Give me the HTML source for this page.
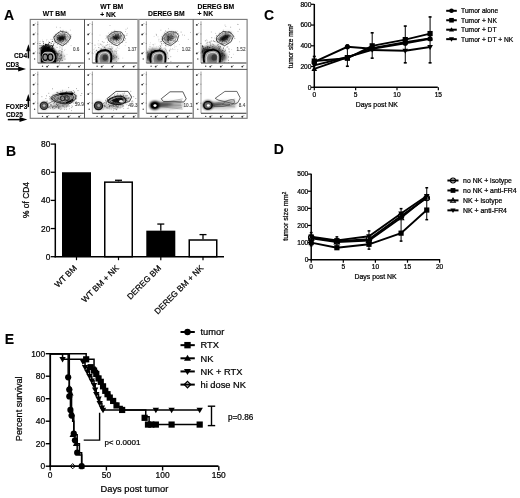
<!DOCTYPE html>
<html><head><meta charset="utf-8"><style>
html,body{margin:0;padding:0;background:#fff;}
svg{display:block;font-family:"Liberation Sans", sans-serif;filter:grayscale(1);}
</style></head><body>
<svg width="520" height="498" viewBox="0 0 520 498">
<defs>
<radialGradient id="rg1" cx="0.55" cy="0.6" r="0.6"><stop offset="0" stop-color="#444"/><stop offset="0.5" stop-color="#808080"/><stop offset="1" stop-color="#b0b0b0"/></radialGradient>
<filter id="b03" x="-10%" y="-10%" width="120%" height="120%"><feGaussianBlur stdDeviation="0.35"/></filter>
<filter id="b05" x="-20%" y="-20%" width="140%" height="140%"><feGaussianBlur stdDeviation="0.5"/></filter>
<filter id="b1" x="-50%" y="-50%" width="200%" height="200%"><feGaussianBlur stdDeviation="1"/></filter>
<filter id="b15" x="-50%" y="-50%" width="200%" height="200%"><feGaussianBlur stdDeviation="1.5"/></filter>
</defs>
<rect width="520" height="498" fill="#fff"/>
<text x="4.00" y="20.00" font-size="14" text-anchor="start" font-weight="bold" fill="#000" stroke="#000" stroke-width="0.1" >A</text>
<text x="54.30" y="16.40" font-size="6.8" text-anchor="middle" font-weight="bold" fill="#000" stroke="#000" stroke-width="0.1" >WT BM</text>
<text x="100.20" y="9.00" font-size="6.8" text-anchor="start" font-weight="bold" fill="#000" stroke="#000" stroke-width="0.1" >WT BM</text>
<text x="100.20" y="16.50" font-size="6.8" text-anchor="start" font-weight="bold" fill="#000" stroke="#000" stroke-width="0.1" >+ NK</text>
<text x="166.30" y="16.40" font-size="6.8" text-anchor="middle" font-weight="bold" fill="#000" stroke="#000" stroke-width="0.1" >DEREG BM</text>
<text x="197.50" y="8.90" font-size="6.8" text-anchor="start" font-weight="bold" fill="#000" stroke="#000" stroke-width="0.1" >DEREG BM</text>
<text x="197.50" y="16.40" font-size="6.8" text-anchor="start" font-weight="bold" fill="#000" stroke="#000" stroke-width="0.1" >+ NK</text>
<text x="14.00" y="57.50" font-size="6.6" text-anchor="start" font-weight="bold" fill="#000" stroke="#000" stroke-width="0.1" >CD4</text>
<text x="5.80" y="67.00" font-size="6.6" text-anchor="start" font-weight="bold" fill="#000" stroke="#000" stroke-width="0.1" >CD3</text>
<text x="5.80" y="108.80" font-size="6.6" text-anchor="start" font-weight="bold" fill="#000" stroke="#000" stroke-width="0.1" >FOXP3</text>
<text x="6.00" y="116.60" font-size="6.6" text-anchor="start" font-weight="bold" fill="#000" stroke="#000" stroke-width="0.1" >CD25</text>
<line x1="28.40" y1="58.30" x2="28.40" y2="49.20" stroke="#000" stroke-width="1.5" />
<path d="M26.1,51.2 L30.7,51.2 L28.4,44.2 Z" fill="#000"/>
<line x1="28.30" y1="107.00" x2="28.30" y2="98.90" stroke="#000" stroke-width="1.5" />
<path d="M26.0,100.9 L30.6,100.9 L28.3,93.9 Z" fill="#000"/>
<line x1="6.00" y1="69.00" x2="21.00" y2="69.00" stroke="#000" stroke-width="1.5" />
<path d="M18.2,66.5 L18.2,71.5 L26.0,69.0 Z" fill="#000"/>
<line x1="7.80" y1="119.60" x2="22.30" y2="119.60" stroke="#000" stroke-width="1.5" />
<path d="M19.5,117.1 L19.5,122.1 L27.3,119.6 Z" fill="#000"/>
<rect x="30.2" y="19.4" width="216.9" height="98.9" fill="none" stroke="#777" stroke-width="1.1"/>
<line x1="84.50" y1="19.00" x2="84.50" y2="118.30" stroke="#555" stroke-width="1" />
<line x1="193.20" y1="19.00" x2="193.20" y2="118.30" stroke="#666" stroke-width="1.1" />
<line x1="138.40" y1="19.00" x2="138.40" y2="118.30" stroke="#999" stroke-width="2.2" />
<line x1="30.00" y1="69.40" x2="247.20" y2="69.40" stroke="#555" stroke-width="1" />
<line x1="37.80" y1="21.20" x2="37.80" y2="63.00" stroke="#aaa" stroke-width="1.1" />
<line x1="37.00" y1="24.50" x2="38.30" y2="24.50" stroke="#777" stroke-width="0.6" />
<circle cx="33.60" cy="24.90" r="0.95" fill="#333"/>
<path d="M34.40,24.40 L35.50,23.30" stroke="#444" stroke-width="0.6"/>
<line x1="37.00" y1="34.00" x2="38.30" y2="34.00" stroke="#777" stroke-width="0.6" />
<circle cx="33.60" cy="34.40" r="0.95" fill="#333"/>
<path d="M34.40,33.90 L35.50,32.80" stroke="#444" stroke-width="0.6"/>
<line x1="37.00" y1="43.50" x2="38.30" y2="43.50" stroke="#777" stroke-width="0.6" />
<circle cx="33.60" cy="43.90" r="0.95" fill="#333"/>
<path d="M34.40,43.40 L35.50,42.30" stroke="#444" stroke-width="0.6"/>
<line x1="37.00" y1="53.00" x2="38.30" y2="53.00" stroke="#777" stroke-width="0.6" />
<circle cx="33.60" cy="53.40" r="0.95" fill="#333"/>
<path d="M34.40,52.90 L35.50,51.80" stroke="#444" stroke-width="0.6"/>
<circle cx="34.60" cy="59.00" r="0.7" fill="#444"/>
<line x1="37.80" y1="63.00" x2="83.80" y2="63.00" stroke="#333" stroke-width="1.1" />
<circle cx="42.50" cy="66.20" r="0.7" fill="#444"/>
<circle cx="47.10" cy="66.60" r="0.95" fill="#333"/>
<path d="M47.90,66.10 L49.00,65.00" stroke="#444" stroke-width="0.6"/>
<circle cx="57.60" cy="66.60" r="0.95" fill="#333"/>
<path d="M58.40,66.10 L59.50,65.00" stroke="#444" stroke-width="0.6"/>
<circle cx="68.60" cy="66.60" r="0.95" fill="#333"/>
<path d="M69.40,66.10 L70.50,65.00" stroke="#444" stroke-width="0.6"/>
<circle cx="79.10" cy="66.60" r="0.95" fill="#333"/>
<path d="M79.90,66.10 L81.00,65.00" stroke="#444" stroke-width="0.6"/>
<line x1="37.80" y1="71.40" x2="37.80" y2="113.20" stroke="#aaa" stroke-width="1.1" />
<line x1="37.00" y1="74.70" x2="38.30" y2="74.70" stroke="#777" stroke-width="0.6" />
<circle cx="33.60" cy="75.10" r="0.95" fill="#333"/>
<path d="M34.40,74.60 L35.50,73.50" stroke="#444" stroke-width="0.6"/>
<line x1="37.00" y1="84.20" x2="38.30" y2="84.20" stroke="#777" stroke-width="0.6" />
<circle cx="33.60" cy="84.60" r="0.95" fill="#333"/>
<path d="M34.40,84.10 L35.50,83.00" stroke="#444" stroke-width="0.6"/>
<line x1="37.00" y1="93.70" x2="38.30" y2="93.70" stroke="#777" stroke-width="0.6" />
<circle cx="33.60" cy="94.10" r="0.95" fill="#333"/>
<path d="M34.40,93.60 L35.50,92.50" stroke="#444" stroke-width="0.6"/>
<line x1="37.00" y1="103.20" x2="38.30" y2="103.20" stroke="#777" stroke-width="0.6" />
<circle cx="33.60" cy="103.60" r="0.95" fill="#333"/>
<path d="M34.40,103.10 L35.50,102.00" stroke="#444" stroke-width="0.6"/>
<circle cx="34.60" cy="109.20" r="0.7" fill="#444"/>
<line x1="37.80" y1="113.20" x2="83.80" y2="113.20" stroke="#333" stroke-width="1.1" />
<circle cx="42.50" cy="116.40" r="0.7" fill="#444"/>
<circle cx="47.10" cy="116.80" r="0.95" fill="#333"/>
<path d="M47.90,116.30 L49.00,115.20" stroke="#444" stroke-width="0.6"/>
<circle cx="57.60" cy="116.80" r="0.95" fill="#333"/>
<path d="M58.40,116.30 L59.50,115.20" stroke="#444" stroke-width="0.6"/>
<circle cx="68.60" cy="116.80" r="0.95" fill="#333"/>
<path d="M69.40,116.30 L70.50,115.20" stroke="#444" stroke-width="0.6"/>
<circle cx="79.10" cy="116.80" r="0.95" fill="#333"/>
<path d="M79.90,116.30 L81.00,115.20" stroke="#444" stroke-width="0.6"/>
<line x1="92.40" y1="21.20" x2="92.40" y2="63.00" stroke="#aaa" stroke-width="1.1" />
<line x1="91.60" y1="24.50" x2="92.90" y2="24.50" stroke="#777" stroke-width="0.6" />
<circle cx="88.20" cy="24.90" r="0.95" fill="#333"/>
<path d="M89.00,24.40 L90.10,23.30" stroke="#444" stroke-width="0.6"/>
<line x1="91.60" y1="34.00" x2="92.90" y2="34.00" stroke="#777" stroke-width="0.6" />
<circle cx="88.20" cy="34.40" r="0.95" fill="#333"/>
<path d="M89.00,33.90 L90.10,32.80" stroke="#444" stroke-width="0.6"/>
<line x1="91.60" y1="43.50" x2="92.90" y2="43.50" stroke="#777" stroke-width="0.6" />
<circle cx="88.20" cy="43.90" r="0.95" fill="#333"/>
<path d="M89.00,43.40 L90.10,42.30" stroke="#444" stroke-width="0.6"/>
<line x1="91.60" y1="53.00" x2="92.90" y2="53.00" stroke="#777" stroke-width="0.6" />
<circle cx="88.20" cy="53.40" r="0.95" fill="#333"/>
<path d="M89.00,52.90 L90.10,51.80" stroke="#444" stroke-width="0.6"/>
<circle cx="89.20" cy="59.00" r="0.7" fill="#444"/>
<line x1="92.40" y1="63.00" x2="137.30" y2="63.00" stroke="#333" stroke-width="1.1" />
<circle cx="97.10" cy="66.20" r="0.7" fill="#444"/>
<circle cx="101.70" cy="66.60" r="0.95" fill="#333"/>
<path d="M102.50,66.10 L103.60,65.00" stroke="#444" stroke-width="0.6"/>
<circle cx="112.20" cy="66.60" r="0.95" fill="#333"/>
<path d="M113.00,66.10 L114.10,65.00" stroke="#444" stroke-width="0.6"/>
<circle cx="123.20" cy="66.60" r="0.95" fill="#333"/>
<path d="M124.00,66.10 L125.10,65.00" stroke="#444" stroke-width="0.6"/>
<circle cx="133.70" cy="66.60" r="0.95" fill="#333"/>
<path d="M134.50,66.10 L135.60,65.00" stroke="#444" stroke-width="0.6"/>
<line x1="92.40" y1="71.40" x2="92.40" y2="113.20" stroke="#aaa" stroke-width="1.1" />
<line x1="91.60" y1="74.70" x2="92.90" y2="74.70" stroke="#777" stroke-width="0.6" />
<circle cx="88.20" cy="75.10" r="0.95" fill="#333"/>
<path d="M89.00,74.60 L90.10,73.50" stroke="#444" stroke-width="0.6"/>
<line x1="91.60" y1="84.20" x2="92.90" y2="84.20" stroke="#777" stroke-width="0.6" />
<circle cx="88.20" cy="84.60" r="0.95" fill="#333"/>
<path d="M89.00,84.10 L90.10,83.00" stroke="#444" stroke-width="0.6"/>
<line x1="91.60" y1="93.70" x2="92.90" y2="93.70" stroke="#777" stroke-width="0.6" />
<circle cx="88.20" cy="94.10" r="0.95" fill="#333"/>
<path d="M89.00,93.60 L90.10,92.50" stroke="#444" stroke-width="0.6"/>
<line x1="91.60" y1="103.20" x2="92.90" y2="103.20" stroke="#777" stroke-width="0.6" />
<circle cx="88.20" cy="103.60" r="0.95" fill="#333"/>
<path d="M89.00,103.10 L90.10,102.00" stroke="#444" stroke-width="0.6"/>
<circle cx="89.20" cy="109.20" r="0.7" fill="#444"/>
<line x1="92.40" y1="113.20" x2="137.30" y2="113.20" stroke="#333" stroke-width="1.1" />
<circle cx="97.10" cy="116.40" r="0.7" fill="#444"/>
<circle cx="101.70" cy="116.80" r="0.95" fill="#333"/>
<path d="M102.50,116.30 L103.60,115.20" stroke="#444" stroke-width="0.6"/>
<circle cx="112.20" cy="116.80" r="0.95" fill="#333"/>
<path d="M113.00,116.30 L114.10,115.20" stroke="#444" stroke-width="0.6"/>
<circle cx="123.20" cy="116.80" r="0.95" fill="#333"/>
<path d="M124.00,116.30 L125.10,115.20" stroke="#444" stroke-width="0.6"/>
<circle cx="133.70" cy="116.80" r="0.95" fill="#333"/>
<path d="M134.50,116.30 L135.60,115.20" stroke="#444" stroke-width="0.6"/>
<line x1="146.40" y1="21.20" x2="146.40" y2="63.00" stroke="#aaa" stroke-width="1.1" />
<line x1="145.60" y1="24.50" x2="146.90" y2="24.50" stroke="#777" stroke-width="0.6" />
<circle cx="142.20" cy="24.90" r="0.95" fill="#333"/>
<path d="M143.00,24.40 L144.10,23.30" stroke="#444" stroke-width="0.6"/>
<line x1="145.60" y1="34.00" x2="146.90" y2="34.00" stroke="#777" stroke-width="0.6" />
<circle cx="142.20" cy="34.40" r="0.95" fill="#333"/>
<path d="M143.00,33.90 L144.10,32.80" stroke="#444" stroke-width="0.6"/>
<line x1="145.60" y1="43.50" x2="146.90" y2="43.50" stroke="#777" stroke-width="0.6" />
<circle cx="142.20" cy="43.90" r="0.95" fill="#333"/>
<path d="M143.00,43.40 L144.10,42.30" stroke="#444" stroke-width="0.6"/>
<line x1="145.60" y1="53.00" x2="146.90" y2="53.00" stroke="#777" stroke-width="0.6" />
<circle cx="142.20" cy="53.40" r="0.95" fill="#333"/>
<path d="M143.00,52.90 L144.10,51.80" stroke="#444" stroke-width="0.6"/>
<circle cx="143.20" cy="59.00" r="0.7" fill="#444"/>
<line x1="146.40" y1="63.00" x2="192.40" y2="63.00" stroke="#333" stroke-width="1.1" />
<circle cx="151.10" cy="66.20" r="0.7" fill="#444"/>
<circle cx="155.70" cy="66.60" r="0.95" fill="#333"/>
<path d="M156.50,66.10 L157.60,65.00" stroke="#444" stroke-width="0.6"/>
<circle cx="166.20" cy="66.60" r="0.95" fill="#333"/>
<path d="M167.00,66.10 L168.10,65.00" stroke="#444" stroke-width="0.6"/>
<circle cx="177.20" cy="66.60" r="0.95" fill="#333"/>
<path d="M178.00,66.10 L179.10,65.00" stroke="#444" stroke-width="0.6"/>
<circle cx="187.70" cy="66.60" r="0.95" fill="#333"/>
<path d="M188.50,66.10 L189.60,65.00" stroke="#444" stroke-width="0.6"/>
<line x1="146.40" y1="71.40" x2="146.40" y2="113.20" stroke="#aaa" stroke-width="1.1" />
<line x1="145.60" y1="74.70" x2="146.90" y2="74.70" stroke="#777" stroke-width="0.6" />
<circle cx="142.20" cy="75.10" r="0.95" fill="#333"/>
<path d="M143.00,74.60 L144.10,73.50" stroke="#444" stroke-width="0.6"/>
<line x1="145.60" y1="84.20" x2="146.90" y2="84.20" stroke="#777" stroke-width="0.6" />
<circle cx="142.20" cy="84.60" r="0.95" fill="#333"/>
<path d="M143.00,84.10 L144.10,83.00" stroke="#444" stroke-width="0.6"/>
<line x1="145.60" y1="93.70" x2="146.90" y2="93.70" stroke="#777" stroke-width="0.6" />
<circle cx="142.20" cy="94.10" r="0.95" fill="#333"/>
<path d="M143.00,93.60 L144.10,92.50" stroke="#444" stroke-width="0.6"/>
<line x1="145.60" y1="103.20" x2="146.90" y2="103.20" stroke="#777" stroke-width="0.6" />
<circle cx="142.20" cy="103.60" r="0.95" fill="#333"/>
<path d="M143.00,103.10 L144.10,102.00" stroke="#444" stroke-width="0.6"/>
<circle cx="143.20" cy="109.20" r="0.7" fill="#444"/>
<line x1="146.40" y1="113.20" x2="192.40" y2="113.20" stroke="#333" stroke-width="1.1" />
<circle cx="151.10" cy="116.40" r="0.7" fill="#444"/>
<circle cx="155.70" cy="116.80" r="0.95" fill="#333"/>
<path d="M156.50,116.30 L157.60,115.20" stroke="#444" stroke-width="0.6"/>
<circle cx="166.20" cy="116.80" r="0.95" fill="#333"/>
<path d="M167.00,116.30 L168.10,115.20" stroke="#444" stroke-width="0.6"/>
<circle cx="177.20" cy="116.80" r="0.95" fill="#333"/>
<path d="M178.00,116.30 L179.10,115.20" stroke="#444" stroke-width="0.6"/>
<circle cx="187.70" cy="116.80" r="0.95" fill="#333"/>
<path d="M188.50,116.30 L189.60,115.20" stroke="#444" stroke-width="0.6"/>
<line x1="201.00" y1="21.20" x2="201.00" y2="63.00" stroke="#aaa" stroke-width="1.1" />
<line x1="200.20" y1="24.50" x2="201.50" y2="24.50" stroke="#777" stroke-width="0.6" />
<circle cx="196.80" cy="24.90" r="0.95" fill="#333"/>
<path d="M197.60,24.40 L198.70,23.30" stroke="#444" stroke-width="0.6"/>
<line x1="200.20" y1="34.00" x2="201.50" y2="34.00" stroke="#777" stroke-width="0.6" />
<circle cx="196.80" cy="34.40" r="0.95" fill="#333"/>
<path d="M197.60,33.90 L198.70,32.80" stroke="#444" stroke-width="0.6"/>
<line x1="200.20" y1="43.50" x2="201.50" y2="43.50" stroke="#777" stroke-width="0.6" />
<circle cx="196.80" cy="43.90" r="0.95" fill="#333"/>
<path d="M197.60,43.40 L198.70,42.30" stroke="#444" stroke-width="0.6"/>
<line x1="200.20" y1="53.00" x2="201.50" y2="53.00" stroke="#777" stroke-width="0.6" />
<circle cx="196.80" cy="53.40" r="0.95" fill="#333"/>
<path d="M197.60,52.90 L198.70,51.80" stroke="#444" stroke-width="0.6"/>
<circle cx="197.80" cy="59.00" r="0.7" fill="#444"/>
<line x1="201.00" y1="63.00" x2="246.40" y2="63.00" stroke="#333" stroke-width="1.1" />
<circle cx="205.70" cy="66.20" r="0.7" fill="#444"/>
<circle cx="210.30" cy="66.60" r="0.95" fill="#333"/>
<path d="M211.10,66.10 L212.20,65.00" stroke="#444" stroke-width="0.6"/>
<circle cx="220.80" cy="66.60" r="0.95" fill="#333"/>
<path d="M221.60,66.10 L222.70,65.00" stroke="#444" stroke-width="0.6"/>
<circle cx="231.80" cy="66.60" r="0.95" fill="#333"/>
<path d="M232.60,66.10 L233.70,65.00" stroke="#444" stroke-width="0.6"/>
<circle cx="242.30" cy="66.60" r="0.95" fill="#333"/>
<path d="M243.10,66.10 L244.20,65.00" stroke="#444" stroke-width="0.6"/>
<line x1="201.00" y1="71.40" x2="201.00" y2="113.20" stroke="#aaa" stroke-width="1.1" />
<line x1="200.20" y1="74.70" x2="201.50" y2="74.70" stroke="#777" stroke-width="0.6" />
<circle cx="196.80" cy="75.10" r="0.95" fill="#333"/>
<path d="M197.60,74.60 L198.70,73.50" stroke="#444" stroke-width="0.6"/>
<line x1="200.20" y1="84.20" x2="201.50" y2="84.20" stroke="#777" stroke-width="0.6" />
<circle cx="196.80" cy="84.60" r="0.95" fill="#333"/>
<path d="M197.60,84.10 L198.70,83.00" stroke="#444" stroke-width="0.6"/>
<line x1="200.20" y1="93.70" x2="201.50" y2="93.70" stroke="#777" stroke-width="0.6" />
<circle cx="196.80" cy="94.10" r="0.95" fill="#333"/>
<path d="M197.60,93.60 L198.70,92.50" stroke="#444" stroke-width="0.6"/>
<line x1="200.20" y1="103.20" x2="201.50" y2="103.20" stroke="#777" stroke-width="0.6" />
<circle cx="196.80" cy="103.60" r="0.95" fill="#333"/>
<path d="M197.60,103.10 L198.70,102.00" stroke="#444" stroke-width="0.6"/>
<circle cx="197.80" cy="109.20" r="0.7" fill="#444"/>
<line x1="201.00" y1="113.20" x2="246.40" y2="113.20" stroke="#333" stroke-width="1.1" />
<circle cx="205.70" cy="116.40" r="0.7" fill="#444"/>
<circle cx="210.30" cy="116.80" r="0.95" fill="#333"/>
<path d="M211.10,116.30 L212.20,115.20" stroke="#444" stroke-width="0.6"/>
<circle cx="220.80" cy="116.80" r="0.95" fill="#333"/>
<path d="M221.60,116.30 L222.70,115.20" stroke="#444" stroke-width="0.6"/>
<circle cx="231.80" cy="116.80" r="0.95" fill="#333"/>
<path d="M232.60,116.30 L233.70,115.20" stroke="#444" stroke-width="0.6"/>
<circle cx="242.30" cy="116.80" r="0.95" fill="#333"/>
<path d="M243.10,116.30 L244.20,115.20" stroke="#444" stroke-width="0.6"/>
<clipPath id="c1_0"><rect x="38.3" y="20" width="44.8" height="42.6"/></clipPath>
<clipPath id="c2_0"><rect x="38.3" y="70" width="44.8" height="42.6"/></clipPath>
<clipPath id="c1_1"><rect x="92.89999999999999" y="20" width="44.2" height="42.6"/></clipPath>
<clipPath id="c2_1"><rect x="92.89999999999999" y="70" width="44.2" height="42.6"/></clipPath>
<clipPath id="c1_2"><rect x="146.9" y="20" width="44.8" height="42.6"/></clipPath>
<clipPath id="c2_2"><rect x="146.9" y="70" width="44.8" height="42.6"/></clipPath>
<clipPath id="c1_3"><rect x="201.5" y="20" width="44.2" height="42.6"/></clipPath>
<clipPath id="c2_3"><rect x="201.5" y="70" width="44.2" height="42.6"/></clipPath>
<g clip-path="url(#c1_0)">
<g filter="url(#b15)">
<ellipse cx="61.50" cy="38.20" rx="7.70" ry="5.70" fill="#000" fill-opacity="0.18" transform="rotate(-15 61.50 38.20)" />
</g>
<path d="M57.7 37.8h0M59.1 37.9h0M62.8 32.6h0M59.9 37.1h0M58.2 38.7h0M63.4 45.3h0M62.6 37.9h0M63.9 34.3h0M59.7 40.4h0M58.9 35.9h0M58.4 34.9h0M66.7 40.7h0M70.9 34.8h0M60.5 37.9h0M63.5 37.7h0M64.2 36.5h0M57.5 44.2h0M60.6 42.0h0M60.4 38.9h0M54.7 37.0h0M63.4 39.5h0M60.8 38.8h0M54.8 40.1h0M58.2 35.9h0M62.4 36.6h0M58.0 37.9h0M59.8 37.8h0M61.4 36.9h0M66.0 41.8h0M64.9 36.2h0M59.4 39.9h0M61.8 42.3h0M62.6 39.3h0M59.5 39.2h0M56.3 35.0h0M61.4 34.8h0M59.9 41.3h0M67.3 36.8h0M60.5 40.8h0M65.4 38.8h0M58.0 37.6h0M64.4 34.1h0M62.7 41.6h0M64.7 35.3h0M60.3 37.9h0M57.5 39.5h0M58.9 40.8h0M57.1 37.4h0M59.3 38.9h0M53.3 43.3h0M60.8 38.8h0M66.0 37.1h0M63.1 38.2h0M65.1 39.4h0M65.7 36.9h0M57.9 40.0h0M57.5 39.2h0M58.7 32.5h0M59.5 35.7h0M55.4 34.4h0M63.5 39.5h0M56.6 36.3h0M57.7 36.0h0M62.7 34.8h0M63.0 30.4h0M55.5 42.2h0M58.4 32.7h0M69.7 37.9h0M60.5 30.6h0M64.4 37.1h0M60.2 37.1h0M53.8 36.4h0M63.4 40.4h0M63.9 38.5h0M62.3 39.3h0M69.1 36.1h0M55.9 40.8h0M59.1 35.3h0M57.2 41.4h0M58.6 38.2h0M58.9 42.1h0M59.4 37.3h0M54.8 36.0h0M64.4 34.2h0M65.3 38.6h0M62.7 38.4h0M62.2 41.4h0M60.7 34.1h0M61.5 42.8h0M57.1 39.2h0" stroke="#000" stroke-opacity="0.5" stroke-width="0.80" stroke-linecap="round" fill="none" filter="url(#b03)"/>
<path d="M68.1 32.1h0M60.2 27.7h0M62.8 45.0h0M70.3 30.1h0M57.8 37.8h0M47.1 50.5h0M66.4 39.5h0M67.4 34.9h0M63.9 41.8h0M65.5 34.7h0M54.6 43.2h0M62.5 32.4h0M69.2 39.3h0M64.3 37.9h0M66.7 44.0h0M61.4 45.7h0M63.6 39.8h0M71.2 36.8h0M63.5 34.9h0M61.8 38.9h0M57.5 35.9h0M68.6 41.8h0M55.3 36.6h0M67.9 42.4h0M55.0 38.1h0M71.1 45.6h0M66.1 31.1h0M69.5 35.9h0M60.3 40.6h0M54.8 36.2h0M45.5 48.6h0M62.6 35.8h0M61.7 37.9h0M57.5 35.7h0M56.5 27.2h0M51.0 39.4h0M70.6 38.3h0M67.4 40.4h0M60.7 40.1h0M60.9 36.1h0M61.9 40.2h0M57.9 35.5h0M63.0 38.1h0M64.3 43.3h0M62.9 37.9h0M56.4 34.2h0M65.8 40.3h0M65.6 40.0h0M58.8 41.2h0M63.8 41.0h0M60.6 44.5h0M66.9 32.0h0M61.1 38.4h0M66.4 43.5h0M53.1 45.9h0M65.2 34.9h0M58.9 42.1h0M59.8 36.6h0M62.0 48.3h0M52.6 50.1h0" stroke="#000" stroke-opacity="0.4" stroke-width="0.70" stroke-linecap="round" fill="none" filter="url(#b03)"/>
<g filter="url(#b1)">
<ellipse cx="61.50" cy="38.20" rx="4.20" ry="2.70" fill="#000" fill-opacity="0.95" transform="rotate(-15 61.50 38.20)" />
</g>
<path d="M46.4 47.9h0M62.0 50.5h0M53.3 53.1h0M44.0 53.7h0M59.8 48.6h0M73.9 48.3h0M52.1 51.1h0M59.2 57.9h0M39.3 41.8h0M62.0 47.6h0M49.4 48.5h0M64.5 50.5h0M46.4 40.8h0M42.4 45.7h0M42.4 40.1h0M58.2 53.1h0M47.2 58.6h0M55.8 46.1h0M56.6 51.0h0M47.3 57.7h0M42.2 53.9h0M49.3 55.4h0M55.9 56.3h0M38.1 48.1h0M60.0 46.9h0M67.0 54.4h0M59.5 46.9h0M35.8 50.1h0M51.9 53.2h0M48.5 41.2h0M46.9 39.5h0M44.7 48.6h0M52.7 52.8h0M46.9 53.3h0M51.4 41.4h0M45.2 48.6h0M47.2 45.2h0M54.9 41.4h0M49.7 44.0h0M40.9 48.0h0M60.3 47.2h0M47.4 56.6h0M56.6 52.4h0M60.7 50.4h0M51.8 54.5h0M54.3 41.4h0M59.4 50.4h0M65.0 49.4h0M38.4 49.2h0M50.8 59.2h0M61.1 57.5h0M49.9 50.4h0M63.5 43.7h0M55.2 55.8h0M48.2 49.5h0M35.2 55.7h0M43.4 55.3h0M52.8 39.6h0M40.5 41.3h0M47.6 54.3h0M48.9 49.8h0M40.2 49.6h0M48.1 47.5h0M52.4 55.3h0M55.7 51.3h0M51.8 46.4h0M55.1 51.1h0M50.6 48.9h0M48.5 42.4h0M52.7 39.5h0M50.6 42.5h0M48.9 56.0h0M55.0 52.2h0M49.1 41.9h0M56.9 53.5h0M48.0 46.7h0M49.7 46.5h0M55.7 53.9h0M49.4 57.5h0M47.0 51.3h0" stroke="#000" stroke-opacity="0.25" stroke-width="0.70" stroke-linecap="round" fill="none" filter="url(#b03)"/>
</g>
<path d="M53.75,37.50 L56.50,34.00 L60.75,31.25 L67.00,32.50 L70.50,36.00 L70.00,39.00 L66.00,43.50 L62.50,45.75 L55.50,42.00 Z" fill="none" stroke="#333" stroke-width="0.85" stroke-linejoin="round"/>
<path d="M56.20,37.62 C56.32,36.66 57.34,35.85 58.18,35.10 C59.02,34.35 59.98,33.30 61.24,33.12 C62.50,32.94 64.57,33.45 65.74,34.02 C66.91,34.59 67.90,35.76 68.26,36.54 C68.62,37.32 68.44,37.80 67.90,38.70 C67.36,39.60 65.92,41.13 65.02,41.94 C64.12,42.75 63.76,43.74 62.50,43.56 C61.24,43.38 58.51,41.85 57.46,40.86 C56.41,39.87 56.08,38.58 56.20,37.62 Z" fill="none" stroke="#777" stroke-width="0.6"/>
<g clip-path="url(#c1_1)">
<g filter="url(#b15)">
<ellipse cx="115.70" cy="37.40" rx="7.30" ry="5.30" fill="#000" fill-opacity="0.18" transform="rotate(-10 115.70 37.40)" />
</g>
<path d="M111.7 39.1h0M118.8 35.5h0M111.2 38.0h0M117.8 39.9h0M111.0 34.9h0M118.3 38.2h0M121.3 38.9h0M115.2 36.8h0M124.2 35.2h0M112.6 35.0h0M116.1 37.7h0M114.5 37.4h0M116.9 39.0h0M119.5 37.3h0M110.0 40.2h0M110.8 37.8h0M110.7 38.3h0M113.2 38.4h0M126.8 35.3h0M118.0 33.6h0M115.0 39.2h0M115.6 38.4h0M115.6 34.8h0M117.2 35.0h0M121.8 35.0h0M118.0 37.0h0M118.6 35.3h0M119.0 36.5h0M120.2 38.2h0M115.8 35.4h0M118.5 38.1h0M121.1 35.5h0M117.8 38.3h0M116.7 37.8h0M116.1 35.8h0M112.1 37.0h0M118.4 40.8h0M119.5 39.4h0M118.6 38.7h0M116.7 39.2h0M121.5 35.5h0M114.2 42.7h0M117.0 39.7h0M118.1 34.1h0M124.7 40.4h0M116.6 39.2h0M115.7 35.1h0M115.5 38.4h0M119.8 38.5h0M116.5 40.7h0M113.5 39.8h0M119.3 36.0h0M109.3 36.2h0M116.7 38.6h0M120.5 34.0h0M116.0 39.0h0M114.1 31.6h0M119.4 42.7h0M118.7 34.5h0M114.4 38.2h0M124.4 37.5h0M116.8 41.2h0M116.2 42.1h0M113.2 36.6h0M118.8 40.5h0M118.0 37.8h0M109.3 36.7h0M113.4 36.4h0M117.5 36.2h0M118.4 37.1h0M114.6 37.9h0M117.5 39.3h0M114.0 37.1h0M111.8 42.2h0M120.5 36.1h0M113.5 34.6h0M116.4 37.8h0M123.2 36.7h0M112.0 31.8h0M120.5 37.0h0M110.4 38.8h0M111.8 47.0h0M119.7 38.2h0M114.2 32.2h0M114.6 33.6h0M116.8 31.7h0M113.2 41.0h0M120.7 33.5h0M110.9 40.5h0M118.1 34.4h0" stroke="#000" stroke-opacity="0.5" stroke-width="0.80" stroke-linecap="round" fill="none" filter="url(#b03)"/>
<path d="M121.0 42.0h0M110.8 34.7h0M119.1 44.1h0M117.3 32.4h0M111.6 38.0h0M121.1 36.5h0M113.7 36.9h0M116.3 34.4h0M116.1 38.6h0M124.9 35.7h0M120.5 32.4h0M120.7 37.3h0M112.9 37.9h0M120.6 35.3h0M122.6 42.6h0M126.0 42.4h0M109.2 40.1h0M112.8 41.9h0M116.5 38.3h0M118.0 34.7h0M115.9 34.5h0M127.1 33.7h0M114.8 30.4h0M107.2 35.6h0M120.9 39.8h0M117.0 34.7h0M125.4 31.6h0M111.6 40.3h0M110.6 39.5h0M121.2 36.3h0M118.2 37.3h0M110.0 25.5h0M109.2 38.7h0M106.5 36.9h0M118.0 42.7h0M108.0 36.7h0M117.5 39.4h0M109.6 46.3h0M112.2 42.7h0M115.1 39.3h0M125.7 38.7h0M115.9 33.3h0M111.3 32.4h0M126.0 29.3h0M102.8 46.6h0M122.8 34.8h0M120.0 33.4h0M113.1 40.1h0M117.8 35.3h0M125.5 38.9h0M115.8 32.6h0M116.5 36.1h0M116.1 40.8h0M112.9 39.1h0M120.6 38.2h0M127.4 28.2h0M114.7 32.8h0M117.3 47.7h0M106.6 37.9h0M119.6 37.2h0" stroke="#000" stroke-opacity="0.4" stroke-width="0.70" stroke-linecap="round" fill="none" filter="url(#b03)"/>
<g filter="url(#b1)">
<ellipse cx="115.70" cy="37.40" rx="3.80" ry="2.30" fill="#000" fill-opacity="0.9" transform="rotate(-10 115.70 37.40)" />
</g>
<path d="M110.0 49.2h0M98.3 54.2h0M108.8 51.1h0M107.9 58.2h0M113.5 56.2h0M104.6 46.5h0M99.2 47.7h0M86.6 58.6h0M107.8 49.6h0M113.2 46.9h0M108.6 53.7h0M95.1 59.3h0M107.8 52.7h0M99.0 45.5h0M119.4 46.0h0M103.7 51.9h0M117.5 34.9h0M117.8 50.7h0M113.5 43.1h0M109.1 58.6h0M106.0 45.4h0M103.5 46.0h0M112.7 50.3h0M103.0 53.8h0M98.6 40.7h0M125.2 45.4h0M119.0 48.6h0M105.1 52.2h0M100.3 44.2h0M105.2 46.8h0M112.1 60.6h0M97.9 44.0h0M112.4 52.1h0M115.2 44.7h0M111.2 48.8h0M94.5 51.8h0M95.0 52.3h0M103.4 48.0h0M122.8 58.1h0M110.0 51.5h0M101.0 56.5h0M111.4 44.0h0M94.3 49.1h0M105.4 54.2h0M99.0 43.9h0M109.9 49.6h0M113.9 55.7h0M100.0 35.1h0M107.2 44.8h0M108.6 33.1h0M106.0 49.7h0M102.6 52.2h0M107.6 50.5h0M116.5 56.8h0M115.8 51.3h0M107.8 52.5h0M109.1 44.8h0M109.7 54.5h0M103.7 42.7h0M111.1 44.7h0M95.6 47.7h0M95.8 51.1h0M102.9 49.6h0M115.3 55.7h0M106.1 35.9h0M103.2 42.3h0M113.5 58.3h0M112.0 52.9h0M110.9 53.2h0M104.0 54.4h0M104.5 42.3h0M107.2 58.5h0M105.4 38.7h0M116.1 50.6h0M110.9 46.4h0M110.4 58.6h0M101.9 53.2h0M109.4 44.1h0M108.1 52.6h0M100.5 56.0h0" stroke="#000" stroke-opacity="0.25" stroke-width="0.70" stroke-linecap="round" fill="none" filter="url(#b03)"/>
</g>
<path d="M107.80,36.80 L110.00,34.00 L114.90,31.50 L121.30,32.00 L124.50,36.40 L122.90,41.30 L117.30,45.70 L113.30,44.30 L108.50,40.50 Z" fill="none" stroke="#333" stroke-width="0.85" stroke-linejoin="round"/>
<path d="M109.99,37.15 C110.17,36.37 110.72,35.77 111.57,35.14 C112.42,34.50 113.74,33.58 115.10,33.34 C116.46,33.10 118.56,33.11 119.71,33.70 C120.86,34.28 121.82,35.75 122.01,36.86 C122.20,37.98 121.72,39.28 120.86,40.39 C120.00,41.51 117.98,43.20 116.83,43.56 C115.68,43.92 115.00,43.18 113.95,42.55 C112.89,41.93 111.15,40.72 110.49,39.82 C109.83,38.92 109.81,37.93 109.99,37.15 Z" fill="none" stroke="#777" stroke-width="0.6"/>
<g clip-path="url(#c1_2)">
<g filter="url(#b15)">
<ellipse cx="169.30" cy="37.50" rx="7.50" ry="5.60" fill="#000" fill-opacity="0.18" transform="rotate(-20 169.30 37.50)" />
</g>
<path d="M164.6 39.9h0M167.9 36.6h0M172.6 36.5h0M170.1 42.7h0M166.4 34.7h0M164.1 37.8h0M172.4 39.0h0M175.0 41.1h0M175.8 37.2h0M174.6 37.7h0M168.4 40.5h0M169.5 36.9h0M177.1 37.2h0M167.8 38.0h0M177.3 34.0h0M172.7 38.3h0M171.9 38.5h0M167.4 36.9h0M168.6 36.8h0M173.8 40.8h0M167.0 40.2h0M165.5 36.9h0M168.8 38.2h0M165.5 31.0h0M174.0 35.1h0M168.0 40.2h0M166.1 34.4h0M171.6 38.1h0M167.5 40.9h0M169.7 34.0h0M175.8 36.1h0M166.1 40.2h0M170.9 40.1h0M165.9 42.1h0M173.5 38.3h0M172.9 40.4h0M172.1 37.0h0M167.8 41.7h0M173.2 37.2h0M170.8 39.4h0M161.2 41.6h0M161.2 41.4h0M175.0 41.4h0M168.3 39.3h0M167.1 31.6h0M172.0 36.6h0M168.8 34.9h0M169.5 37.8h0M174.2 36.8h0M181.1 32.1h0M168.6 37.8h0M168.2 42.7h0M170.5 33.3h0M171.0 40.6h0M164.8 39.7h0M171.0 44.2h0M170.5 35.9h0M169.5 43.4h0M170.2 44.4h0M164.0 39.0h0M168.0 35.9h0M169.5 39.7h0M165.8 34.5h0M175.6 39.9h0M167.4 39.3h0M161.7 43.6h0M164.4 37.7h0M175.7 31.4h0M168.5 34.6h0M162.0 36.7h0M169.1 33.7h0M168.2 40.3h0M167.7 34.2h0M174.8 36.0h0M173.3 33.0h0M174.0 31.8h0M163.1 38.6h0M168.5 38.7h0M168.2 40.0h0M173.4 34.1h0M164.4 38.2h0M173.1 38.8h0M167.3 35.3h0M170.4 40.2h0M168.3 42.0h0M170.6 38.1h0M168.7 42.1h0M168.2 33.5h0M171.9 35.4h0M173.4 36.7h0" stroke="#000" stroke-opacity="0.5" stroke-width="0.80" stroke-linecap="round" fill="none" filter="url(#b03)"/>
<path d="M172.1 35.8h0M190.4 32.5h0M171.2 39.1h0M165.1 35.3h0M171.7 34.3h0M173.7 34.8h0M156.6 35.3h0M160.9 30.2h0M168.4 36.3h0M173.4 31.5h0M168.9 40.6h0M172.0 31.2h0M177.2 31.3h0M175.9 33.6h0M164.7 32.7h0M172.6 48.8h0M168.1 46.0h0M176.5 32.8h0M178.2 41.5h0M166.6 35.7h0M176.5 36.7h0M182.6 34.9h0M162.4 39.8h0M163.6 43.5h0M172.8 34.1h0M165.6 43.5h0M169.1 44.0h0M163.1 38.4h0M164.4 33.9h0M188.3 39.4h0M166.9 42.5h0M160.8 47.2h0M175.2 33.6h0M167.7 39.4h0M171.4 34.9h0M163.9 38.1h0M168.1 42.1h0M170.3 38.4h0M158.9 39.3h0M166.2 36.0h0M168.2 36.4h0M161.9 45.2h0M174.0 33.2h0M171.5 31.9h0M161.6 39.3h0M178.4 33.7h0M160.8 42.0h0M164.9 35.5h0M168.6 28.7h0M156.4 34.7h0M176.1 35.7h0M164.8 35.7h0M175.6 41.9h0M165.7 40.4h0M184.6 35.3h0M168.2 39.9h0M171.4 40.5h0M170.9 34.6h0M169.6 39.6h0M165.7 39.4h0" stroke="#000" stroke-opacity="0.4" stroke-width="0.70" stroke-linecap="round" fill="none" filter="url(#b03)"/>
<g filter="url(#b1)">
<ellipse cx="169.30" cy="37.50" rx="4.00" ry="2.60" fill="#000" fill-opacity="0.55" transform="rotate(-20 169.30 37.50)" />
</g>
<path d="M164.9 50.8h0M155.7 60.2h0M149.4 49.2h0M167.3 52.9h0M165.3 43.4h0M174.2 45.1h0M160.4 49.2h0M160.7 46.1h0M171.9 49.5h0M167.9 40.3h0M165.1 47.9h0M163.7 50.4h0M164.0 48.6h0M161.4 49.9h0M162.5 49.5h0M158.1 51.6h0M154.7 60.8h0M167.0 57.8h0M159.9 41.9h0M149.9 44.7h0M156.3 46.9h0M158.1 52.6h0M143.8 58.5h0M158.2 49.9h0M147.9 50.5h0M150.3 51.9h0M162.7 50.1h0M159.4 47.5h0M158.4 54.1h0M161.3 50.4h0M177.8 49.6h0M154.1 36.4h0M143.2 49.7h0M166.9 43.2h0M152.4 48.0h0M161.6 54.3h0M159.8 45.4h0M165.5 43.7h0M150.3 42.8h0M158.3 46.6h0M160.6 49.3h0M177.6 51.3h0M145.2 41.0h0M161.8 44.3h0M176.1 46.5h0M157.8 49.6h0M158.8 52.0h0M158.7 50.7h0M156.1 34.1h0M163.6 58.3h0M153.7 45.8h0M166.3 46.1h0M161.4 47.7h0M164.9 48.2h0M175.0 49.3h0M158.7 40.9h0M161.3 43.7h0M165.2 52.2h0M179.5 44.5h0M161.5 54.9h0M146.2 52.6h0M173.8 49.4h0M160.4 55.9h0M162.6 50.7h0M166.7 44.6h0M174.4 47.1h0M160.6 46.8h0M142.1 39.9h0M158.0 49.0h0M168.9 64.0h0M165.8 48.4h0M156.0 56.9h0M156.1 48.8h0M170.3 48.3h0M159.6 49.9h0M148.9 48.4h0M161.9 51.1h0M158.0 36.8h0M154.9 53.3h0M155.0 44.0h0" stroke="#000" stroke-opacity="0.25" stroke-width="0.70" stroke-linecap="round" fill="none" filter="url(#b03)"/>
</g>
<path d="M162.30,38.00 L164.30,34.40 L169.10,31.60 L176.30,32.40 L178.70,35.60 L177.10,40.90 L170.70,45.70 L166.70,44.10 L162.70,40.90 Z" fill="none" stroke="#333" stroke-width="0.85" stroke-linejoin="round"/>
<path d="M164.39,38.05 C164.58,37.27 165.01,36.23 165.83,35.46 C166.65,34.69 167.85,33.68 169.29,33.44 C170.73,33.20 173.32,33.54 174.47,34.02 C175.62,34.50 176.10,35.30 176.20,36.32 C176.29,37.34 176.01,38.93 175.05,40.14 C174.09,41.35 171.69,43.21 170.44,43.59 C169.19,43.98 168.52,43.02 167.56,42.44 C166.60,41.87 165.21,40.87 164.68,40.14 C164.15,39.41 164.20,38.83 164.39,38.05 Z" fill="none" stroke="#777" stroke-width="0.6"/>
<g clip-path="url(#c1_3)">
<g filter="url(#b15)">
<ellipse cx="224.50" cy="37.80" rx="9.00" ry="5.60" fill="#000" fill-opacity="0.18" transform="rotate(-30 224.50 37.80)" />
</g>
<path d="M226.3 41.8h0M218.6 35.3h0M226.7 38.7h0M227.2 38.1h0M223.5 36.6h0M221.4 39.1h0M224.7 41.1h0M225.9 33.1h0M228.0 36.0h0M232.1 38.8h0M224.9 32.0h0M225.7 32.3h0M230.9 32.2h0M226.9 42.8h0M217.5 42.3h0M219.7 39.2h0M222.7 41.5h0M224.3 39.4h0M225.4 31.9h0M230.8 33.7h0M217.0 40.3h0M230.4 38.1h0M222.3 39.8h0M227.7 39.8h0M226.0 40.6h0M220.2 38.2h0M229.1 37.9h0M225.8 39.4h0M227.2 39.2h0M231.0 36.2h0M228.2 34.7h0M219.3 33.3h0M227.0 36.8h0M224.8 31.7h0M222.2 37.6h0M218.6 44.6h0M228.6 31.5h0M229.6 41.0h0M221.3 43.4h0M234.8 38.5h0M217.6 38.6h0M227.8 40.3h0M218.6 39.1h0M221.9 43.4h0M223.6 40.7h0M229.7 39.1h0M227.5 37.6h0M230.9 36.1h0M218.8 39.6h0M229.3 35.9h0M224.0 39.3h0M239.7 29.3h0M228.0 37.7h0M225.7 41.5h0M229.5 36.6h0M221.1 44.4h0M228.4 35.6h0M213.2 44.5h0M219.5 40.3h0M221.7 37.0h0M229.8 35.5h0M229.2 32.2h0M226.3 41.8h0M225.5 35.1h0M220.4 38.6h0M225.8 39.8h0M226.9 39.3h0M229.0 36.0h0M231.9 36.4h0M224.1 37.8h0M224.0 36.0h0M219.3 41.3h0M223.8 40.6h0M222.7 39.6h0M225.3 36.1h0M224.9 35.5h0M224.4 40.9h0M226.9 36.8h0M222.7 41.6h0M230.7 27.2h0M230.1 35.7h0M231.7 38.0h0M223.2 44.8h0M222.2 38.7h0M227.8 36.0h0M225.5 35.8h0M220.6 40.5h0M222.3 44.0h0M228.3 40.8h0M216.6 35.7h0" stroke="#000" stroke-opacity="0.5" stroke-width="0.80" stroke-linecap="round" fill="none" filter="url(#b03)"/>
<path d="M237.4 24.4h0M226.2 35.4h0M216.9 39.1h0M220.6 39.5h0M229.6 40.3h0M228.5 41.4h0M227.6 36.3h0M220.3 34.8h0M212.6 44.0h0M223.6 39.8h0M223.4 31.4h0M216.3 36.2h0M230.8 33.2h0M222.7 33.7h0M213.6 40.6h0M224.2 40.1h0M213.9 45.3h0M216.6 39.2h0M220.5 37.4h0M229.1 39.4h0M225.0 34.3h0M227.7 37.6h0M230.5 35.4h0M210.7 41.3h0M223.1 43.1h0M225.0 42.0h0M223.1 31.9h0M225.4 39.8h0M223.3 30.2h0M225.5 33.7h0M207.7 44.1h0M207.0 40.7h0M239.7 41.8h0M232.3 35.2h0M238.0 31.4h0M211.3 32.0h0M225.0 25.1h0M202.2 46.8h0M222.3 34.1h0M231.0 33.2h0M226.4 38.7h0M220.2 41.0h0M238.2 24.5h0M226.3 39.2h0M220.0 39.8h0M210.7 43.1h0M226.8 42.1h0M229.3 31.6h0M220.3 49.7h0M225.8 26.5h0M219.5 35.6h0M215.7 33.4h0M219.8 37.4h0M224.7 43.0h0M222.8 32.0h0M210.4 42.8h0M234.4 36.9h0M222.6 44.9h0M225.7 33.6h0M227.0 35.7h0" stroke="#000" stroke-opacity="0.4" stroke-width="0.70" stroke-linecap="round" fill="none" filter="url(#b03)"/>
<g filter="url(#b1)">
<ellipse cx="224.50" cy="37.80" rx="5.50" ry="2.60" fill="#000" fill-opacity="0.95" transform="rotate(-30 224.50 37.80)" />
</g>
<path d="M206.3 45.7h0M217.5 45.0h0M206.7 39.6h0M219.0 47.1h0M209.6 42.8h0M197.0 48.7h0M207.7 47.9h0M224.5 46.3h0M213.3 53.5h0M212.9 49.0h0M206.3 43.4h0M203.1 53.8h0M223.2 45.9h0M213.7 46.5h0M233.6 54.3h0M214.2 52.7h0M224.5 43.5h0M219.6 52.4h0M215.5 53.4h0M223.7 49.3h0M212.9 54.2h0M216.5 51.4h0M229.1 51.3h0M215.1 42.0h0M218.0 51.2h0M219.7 52.3h0M220.5 50.6h0M216.5 52.4h0M210.8 44.0h0M208.7 49.9h0M203.3 46.7h0M214.2 51.0h0M208.4 49.6h0M215.8 46.4h0M216.0 48.3h0M207.9 47.4h0M209.3 59.6h0M214.0 45.9h0M205.6 49.2h0M218.1 49.5h0M206.1 43.7h0M208.1 50.3h0M209.8 48.8h0M228.0 39.2h0M213.8 49.1h0M205.1 55.0h0M213.7 51.3h0M219.6 57.0h0M211.1 45.9h0M206.8 42.5h0M228.1 46.8h0M203.5 53.0h0M227.8 44.0h0M215.2 41.7h0M201.6 48.2h0M207.3 42.8h0M215.6 51.4h0M214.0 56.2h0M211.0 47.4h0M221.6 61.5h0M229.6 54.5h0M216.5 41.9h0M225.8 48.8h0M231.7 49.6h0M201.8 55.3h0M216.7 46.2h0M216.6 49.3h0M217.6 39.4h0M215.7 51.7h0M206.8 56.3h0M214.4 38.0h0M226.7 47.2h0M215.9 48.1h0M229.1 49.4h0M210.6 45.7h0M219.6 52.6h0M210.8 54.5h0M210.7 50.1h0M219.3 50.8h0M217.4 50.8h0" stroke="#000" stroke-opacity="0.25" stroke-width="0.70" stroke-linecap="round" fill="none" filter="url(#b03)"/>
</g>
<path d="M216.30,38.00 L218.70,34.80 L223.10,31.50 L230.30,32.40 L233.50,36.00 L231.10,41.70 L224.70,45.70 L219.90,43.30 L216.70,40.90 Z" fill="none" stroke="#333" stroke-width="0.85" stroke-linejoin="round"/>
<path d="M218.40,38.07 C218.64,37.34 219.32,36.55 220.13,35.77 C220.95,34.99 221.91,33.68 223.30,33.39 C224.69,33.10 227.24,33.50 228.48,34.04 C229.73,34.58 230.69,35.52 230.79,36.63 C230.88,37.75 230.12,39.57 229.06,40.74 C228.00,41.90 225.80,43.42 224.45,43.62 C223.11,43.81 221.96,42.46 221.00,41.89 C220.04,41.31 219.12,40.80 218.69,40.16 C218.26,39.52 218.16,38.80 218.40,38.07 Z" fill="none" stroke="#777" stroke-width="0.6"/>
<g clip-path="url(#c1_0)">
<g filter="url(#b15)">
<ellipse cx="58.00" cy="57.00" rx="6.00" ry="5.00" fill="#000" fill-opacity="0.35" transform="rotate(0 58.00 57.00)" />
<ellipse cx="47.00" cy="50.00" rx="6.00" ry="5.00" fill="#000" fill-opacity="0.5" transform="rotate(0 47.00 50.00)" />
</g>
<path d="M44.8 51.0h0M50.1 55.2h0M42.2 47.3h0M43.5 48.5h0M46.0 45.6h0M47.4 45.2h0M48.3 46.8h0M47.5 50.9h0M46.2 47.7h0M44.0 46.0h0M51.7 51.4h0M52.8 50.7h0M47.7 47.7h0M45.7 44.7h0M49.9 52.7h0M51.5 54.2h0M43.1 41.7h0M49.1 50.4h0M43.3 46.7h0M49.3 55.2h0M48.0 47.4h0M49.4 53.0h0M42.6 51.9h0M43.3 49.6h0M48.2 49.7h0M41.5 50.8h0M41.8 51.7h0M40.1 48.0h0M44.9 47.3h0M47.3 50.3h0M52.7 51.0h0M50.3 46.0h0M50.1 52.3h0M51.2 54.0h0M43.5 45.4h0M43.9 47.5h0M51.2 43.3h0M46.7 52.7h0M46.0 45.0h0M43.5 51.2h0M49.0 49.0h0M47.7 53.9h0M45.3 55.8h0M43.2 55.6h0M41.7 53.8h0M46.5 44.6h0M46.9 51.3h0M48.5 49.9h0M45.9 48.6h0M46.8 53.4h0M48.1 51.7h0M47.2 54.0h0M54.7 56.5h0M42.4 46.7h0M42.9 48.4h0M53.2 48.3h0M46.8 48.8h0M40.0 45.7h0M44.0 46.8h0M45.3 48.0h0M45.7 44.3h0M49.9 51.1h0M44.0 47.9h0M43.5 43.3h0M48.8 48.1h0M50.1 54.3h0M41.9 45.8h0M48.3 47.7h0M44.2 48.2h0M47.9 45.1h0M46.8 53.0h0M44.6 48.3h0M48.0 52.6h0M49.9 51.0h0M52.1 47.4h0M52.1 51.4h0M45.4 44.9h0M51.8 50.3h0M48.4 54.6h0M45.2 52.1h0M49.5 54.8h0M47.6 55.5h0M44.7 49.4h0M44.3 46.4h0M52.4 50.4h0M46.4 50.2h0M47.0 44.7h0M45.0 50.8h0M42.3 48.8h0M45.1 46.3h0M41.8 47.5h0M47.2 51.3h0M41.2 50.0h0M48.5 43.9h0M41.8 51.3h0M49.0 51.3h0M52.1 51.8h0M51.3 49.5h0M46.5 46.6h0M46.9 48.3h0M44.5 51.5h0M47.8 48.1h0M47.2 50.6h0M48.0 47.3h0M48.8 48.0h0M47.6 47.8h0M53.6 44.8h0M50.0 46.3h0M52.1 45.5h0M49.0 49.0h0M49.8 45.3h0M45.4 51.0h0M49.4 47.5h0M39.9 48.3h0M44.1 49.7h0M45.0 46.1h0M45.8 54.1h0M48.5 48.2h0M48.6 44.9h0M44.4 49.2h0M45.2 47.4h0M46.5 55.4h0M46.3 50.8h0M52.4 41.5h0M45.4 52.4h0M41.4 48.1h0M51.1 49.8h0M47.3 56.4h0M39.9 53.2h0M42.1 50.8h0M48.6 50.0h0M45.6 52.3h0M48.1 52.3h0M50.0 51.5h0M52.6 48.1h0M40.0 43.6h0M45.9 45.3h0M45.2 49.8h0M51.8 45.5h0M48.2 45.2h0M49.6 42.5h0M51.9 48.6h0M54.2 50.2h0M43.3 48.1h0M44.2 50.5h0M50.8 50.4h0M45.5 48.6h0M52.6 46.5h0M49.1 46.7h0M43.8 51.7h0M41.0 54.9h0M52.5 46.4h0M42.7 49.1h0M45.5 47.2h0M50.2 57.5h0M46.2 51.9h0M45.1 49.6h0M44.6 49.2h0M47.1 48.4h0M47.3 47.3h0" stroke="#000" stroke-opacity="1.0" stroke-width="0.90" stroke-linecap="round" fill="none" filter="url(#b03)"/>
<path d="M61.7 57.3h0M58.1 59.1h0M51.2 50.5h0M49.9 57.2h0M59.8 56.4h0M48.9 60.9h0M47.8 54.3h0M52.4 56.9h0M59.9 50.8h0M53.6 57.1h0M49.7 55.7h0M55.8 51.3h0M49.1 55.8h0M54.0 56.8h0M65.0 59.1h0M57.0 53.5h0M59.2 53.3h0M62.1 60.2h0M46.0 51.9h0M54.1 54.6h0M49.3 51.7h0M58.2 54.1h0M48.1 55.0h0M59.4 61.9h0M55.3 54.9h0M51.4 54.2h0M57.4 60.4h0M60.6 55.1h0M59.0 58.7h0M57.0 47.4h0M54.7 55.0h0M61.0 55.0h0M57.0 56.9h0M60.7 58.7h0M59.6 61.2h0M59.3 58.7h0M53.8 56.3h0M64.7 56.1h0M57.3 55.7h0M53.7 45.5h0M62.7 51.9h0M51.3 60.7h0M44.4 56.1h0M52.5 49.5h0M57.8 53.3h0M54.5 54.5h0M57.9 63.9h0M49.4 59.0h0M51.9 54.8h0M46.5 52.0h0M53.1 58.9h0M56.1 58.0h0M58.3 51.2h0M61.5 54.9h0M58.1 55.4h0M56.2 58.3h0M44.9 63.1h0M55.8 59.8h0M56.0 56.3h0M49.1 54.6h0M45.0 55.5h0M62.1 49.4h0M51.9 54.7h0M60.2 60.3h0M55.3 56.3h0M54.3 54.3h0M52.8 54.4h0M54.3 56.3h0M52.1 58.2h0M54.8 57.9h0M48.9 53.5h0M55.4 57.0h0M54.2 61.4h0M54.1 61.0h0M61.3 58.4h0M57.0 57.9h0M54.3 52.1h0M52.7 53.8h0M53.1 53.4h0M50.2 56.5h0M61.4 52.9h0M46.7 54.0h0M49.4 52.4h0M49.2 55.5h0M57.4 63.9h0M49.7 51.0h0M54.2 55.5h0M62.2 60.5h0M52.0 48.8h0M57.6 54.4h0M61.2 55.6h0M54.3 51.8h0M54.8 60.0h0M51.3 56.7h0M52.3 59.2h0M54.7 57.9h0M56.4 52.9h0M49.8 60.6h0M53.4 52.4h0M52.1 61.8h0M55.4 59.9h0M44.7 64.1h0M55.4 60.7h0M53.6 55.8h0M58.9 62.6h0M55.8 53.6h0M59.6 63.4h0M48.9 53.1h0M57.9 54.5h0M45.0 56.0h0M56.3 58.5h0M61.4 51.5h0M52.6 55.8h0M56.9 53.4h0M55.2 53.3h0M58.9 60.4h0M51.6 58.1h0M50.4 57.4h0M48.6 56.9h0M60.3 59.3h0" stroke="#000" stroke-opacity="0.6" stroke-width="0.80" stroke-linecap="round" fill="none" filter="url(#b03)"/>
<g filter="url(#b1)">
<path d="M40.3,63 L40.3,51 Q40.8,46 45,45.8 Q48,45.5 50,46.8 Q54,47.5 55.5,50.5 Q57.2,53 56.8,63 Z" fill="#000" fill-opacity="0.85"/>
</g>
<path d="M41,63 L41,52 Q41.5,48.5 46,48.2 Q52.5,48.3 55,51.5 Q56.3,54 56,63 Z" fill="#000"/>
<rect x="42.2" y="52.3" width="12" height="10" rx="4.5" fill="#8a8a8a" stroke="#c8c8c8" stroke-width="1.1"/>
<ellipse cx="45.20" cy="57.20" rx="2.40" ry="3.20" fill="none" stroke="#000" stroke-width="1.1" stroke-opacity="1" transform="rotate(0 45.20 57.20)"/>
<ellipse cx="50.40" cy="57.20" rx="2.40" ry="3.20" fill="none" stroke="#000" stroke-width="1.1" stroke-opacity="1" transform="rotate(0 50.40 57.20)"/>
</g>
<g clip-path="url(#c1_1)">
<g filter="url(#b15)">
<ellipse cx="106.00" cy="55.00" rx="9.00" ry="7.00" fill="#000" fill-opacity="0.3" transform="rotate(0 106.00 55.00)" />
<ellipse cx="114.00" cy="58.00" rx="4.00" ry="4.00" fill="#000" fill-opacity="0.3" transform="rotate(0 114.00 58.00)" />
</g>
<path d="M104.0 60.7h0M109.8 57.2h0M105.8 55.3h0M104.4 57.4h0M101.3 62.6h0M113.2 56.6h0M112.1 61.7h0M104.7 51.6h0M110.5 48.5h0M110.5 57.3h0M100.8 44.2h0M107.1 58.4h0M107.4 42.3h0M107.2 56.2h0M105.0 50.6h0M95.7 61.7h0M104.8 47.7h0M111.6 49.0h0M108.2 48.3h0M103.2 54.0h0M116.1 49.1h0M100.0 60.6h0M112.0 55.6h0M101.4 52.1h0M95.2 59.9h0M109.1 59.3h0M110.1 57.5h0M111.1 50.4h0M116.7 56.8h0M101.0 49.9h0M103.8 59.1h0M108.4 61.4h0M118.7 58.7h0M111.7 59.2h0M99.9 52.8h0M103.9 60.3h0M97.3 66.7h0M100.6 50.2h0M101.4 50.0h0M105.8 55.9h0M116.4 53.2h0M111.8 58.9h0M107.8 44.7h0M107.9 56.1h0M98.6 59.3h0M113.0 58.8h0M105.2 49.6h0M108.5 51.0h0M107.9 50.8h0M100.2 57.8h0M101.9 45.0h0M112.2 57.9h0M109.7 48.4h0M105.6 59.7h0M108.2 52.7h0M110.7 53.6h0M95.7 54.0h0M101.6 48.9h0M110.8 49.7h0M112.5 51.4h0M103.3 54.1h0M108.6 53.0h0M105.3 56.6h0M100.8 51.7h0M98.7 47.5h0M115.1 51.8h0M108.1 50.8h0M114.7 57.8h0M111.7 54.8h0M111.2 51.2h0M96.5 61.2h0M110.3 56.8h0M104.2 53.1h0M99.4 53.4h0M106.1 60.0h0M104.6 47.6h0M96.3 50.3h0M98.3 58.6h0M112.2 59.3h0M100.8 48.9h0M110.2 41.2h0M102.3 41.6h0M102.3 51.7h0M111.0 49.5h0M102.6 53.0h0M100.0 53.2h0M92.9 49.8h0M104.1 55.7h0M110.4 59.3h0M106.0 53.7h0M100.4 57.4h0M97.1 57.5h0M100.2 54.9h0M112.5 48.3h0M107.5 53.4h0M100.7 54.2h0M116.3 61.5h0M101.4 50.3h0M106.2 45.3h0M102.2 55.5h0M110.8 51.6h0M101.6 56.6h0M93.0 53.7h0M108.0 53.9h0M118.6 65.5h0M96.6 54.0h0M102.9 50.1h0M95.4 61.2h0M104.1 54.2h0M116.1 57.3h0M96.7 50.4h0M95.6 55.0h0M101.7 58.9h0M102.3 58.5h0M116.6 51.8h0M103.3 54.6h0M114.8 50.9h0M95.0 45.2h0M105.3 48.2h0M100.6 61.0h0" stroke="#000" stroke-opacity="0.5" stroke-width="0.76" stroke-linecap="round" fill="none" filter="url(#b03)"/>
<path d="M97,63.5 Q95.5,56 98,52.5 Q101,50 106,50.2 Q111,51 111.3,56 Q111.5,60 110.5,63.5" fill="url(#rg1)" stroke="#000" stroke-width="1.9"/>
<path d="M96.6,63 Q95.2,56 97.6,52.2 Q101,49.6 106,49.8" fill="none" stroke="#000" stroke-width="0.9" filter="url(#b05)"/>
<path d="M99.3,63 Q98,57.5 100,54.5 Q102.5,52.3 106,52.5 Q109.2,53.2 109.3,57 Q109.3,60.5 108.8,63" fill="none" stroke="#ddd" stroke-width="0.9"/>
<g filter="url(#b05)">
<ellipse cx="105.20" cy="57.60" rx="2.60" ry="3.20" fill="#333" fill-opacity="0.9" transform="rotate(0 105.20 57.60)" />
</g>
</g>
<g clip-path="url(#c1_2)">
<g filter="url(#b15)">
<ellipse cx="158.00" cy="56.00" rx="10.00" ry="7.50" fill="#000" fill-opacity="0.3" transform="rotate(0 158.00 56.00)" />
<ellipse cx="148.50" cy="57.00" rx="2.50" ry="5.00" fill="#000" fill-opacity="0.8" transform="rotate(0 148.50 57.00)" />
<ellipse cx="153.00" cy="51.00" rx="4.00" ry="2.50" fill="#000" fill-opacity="0.5" transform="rotate(0 153.00 51.00)" />
</g>
<path d="M153.9 59.3h0M152.3 56.3h0M151.5 54.6h0M164.5 56.3h0M161.0 55.3h0M156.5 67.9h0M149.9 55.7h0M170.1 49.7h0M153.7 53.5h0M151.9 54.3h0M159.6 54.7h0M151.0 60.4h0M151.3 51.2h0M158.4 51.3h0M165.8 45.7h0M163.7 56.0h0M153.8 58.7h0M153.2 54.0h0M150.0 46.7h0M169.3 50.7h0M160.1 63.1h0M159.3 48.3h0M155.6 51.3h0M158.7 51.3h0M153.2 53.7h0M156.2 54.7h0M153.7 63.0h0M157.3 63.1h0M160.7 48.5h0M154.9 52.6h0M141.4 56.2h0M166.3 54.4h0M140.8 59.9h0M146.8 52.4h0M162.4 57.0h0M161.1 49.2h0M159.4 49.8h0M159.5 54.4h0M157.1 62.2h0M148.3 54.2h0M148.0 56.4h0M159.7 50.9h0M162.8 55.5h0M146.2 68.1h0M167.6 53.0h0M164.5 65.1h0M160.4 57.0h0M159.3 50.5h0M154.0 57.5h0M161.3 55.0h0M159.2 55.4h0M162.0 55.8h0M150.5 54.6h0M160.5 46.1h0M149.8 53.9h0M160.5 55.1h0M165.5 45.3h0M151.1 63.5h0M161.4 52.5h0M161.1 56.0h0M159.8 55.9h0M153.4 53.9h0M164.4 51.3h0M147.5 52.4h0M143.6 44.7h0M164.6 57.8h0M142.9 50.7h0M152.8 57.4h0M153.9 64.1h0M154.4 55.2h0M161.2 54.5h0M146.9 57.1h0M161.1 50.2h0M147.8 51.7h0M168.5 58.6h0M159.6 49.3h0M161.7 57.5h0M159.1 52.1h0M160.9 55.3h0M151.0 56.4h0M156.6 61.2h0M153.1 44.5h0M162.1 54.3h0M157.2 53.7h0M157.4 60.7h0M168.4 58.7h0M165.4 49.6h0M151.4 51.4h0M160.2 48.6h0M149.6 59.0h0M166.5 50.2h0M170.9 61.4h0M152.5 54.7h0M165.7 53.2h0M156.0 56.8h0M169.7 51.0h0M157.8 50.3h0M150.4 63.1h0M166.2 51.8h0M157.5 58.4h0M161.2 64.4h0M165.0 43.7h0M147.4 57.9h0M154.0 61.8h0M162.2 59.7h0M170.8 56.7h0M149.1 54.1h0M161.5 51.8h0M153.0 66.0h0M151.2 57.7h0" stroke="#000" stroke-opacity="0.5" stroke-width="0.76" stroke-linecap="round" fill="none" filter="url(#b03)"/>
<path d="M151,63.5 Q149.5,56 152,52.8 Q155,50.5 160,50.6 Q165,51.3 165.5,56 Q165.8,60 165,63.5" fill="url(#rg1)" stroke="#000" stroke-width="1.8"/>
<path d="M150.6,63 Q149.2,56 151.6,52.4 Q155,50 160,50.2" fill="none" stroke="#000" stroke-width="1.1" filter="url(#b05)"/>
<path d="M153.3,63 Q152,57.5 154,54.8 Q156.5,52.8 160,53 Q163.3,53.6 163.4,57 Q163.4,60.5 162.9,63" fill="none" stroke="#ddd" stroke-width="0.9"/>
<g filter="url(#b05)">
<ellipse cx="159.80" cy="57.40" rx="2.60" ry="3.20" fill="#333" fill-opacity="0.9" transform="rotate(0 159.80 57.40)" />
</g>
</g>
<g clip-path="url(#c1_3)">
<g filter="url(#b15)">
<ellipse cx="212.00" cy="55.00" rx="12.50" ry="9.50" fill="#000" fill-opacity="0.55" transform="rotate(0 212.00 55.00)" />
<ellipse cx="222.00" cy="57.00" rx="5.00" ry="5.00" fill="#000" fill-opacity="0.55" transform="rotate(0 222.00 57.00)" />
<ellipse cx="204.00" cy="50.00" rx="4.00" ry="3.00" fill="#000" fill-opacity="0.6" transform="rotate(0 204.00 50.00)" />
</g>
<path d="M219.5 55.5h0M222.3 59.4h0M209.5 52.9h0M224.5 55.7h0M219.4 61.1h0M205.5 47.8h0M218.7 46.6h0M204.8 50.3h0M212.0 56.3h0M205.1 55.7h0M212.9 48.3h0M196.5 61.6h0M203.4 46.9h0M205.3 40.8h0M215.7 62.9h0M217.6 54.8h0M206.2 50.0h0M206.3 53.3h0M211.7 59.4h0M202.6 47.0h0M204.2 53.0h0M225.5 50.8h0M202.4 50.8h0M215.2 56.2h0M228.4 60.3h0M213.4 51.1h0M209.3 47.6h0M207.6 47.5h0M210.5 55.1h0M215.0 58.9h0M211.0 49.6h0M192.6 58.8h0M218.5 56.7h0M219.1 46.1h0M222.4 50.5h0M208.5 49.5h0M203.9 57.0h0M220.2 46.5h0M200.6 61.9h0M202.3 46.7h0M214.9 57.2h0M205.1 49.4h0M211.3 66.5h0M223.7 50.8h0M224.6 51.5h0M208.1 53.8h0M196.0 47.8h0M200.2 48.7h0M210.7 54.0h0M204.7 52.6h0M192.3 46.5h0M228.9 48.9h0M206.2 47.1h0M194.6 49.8h0M214.1 53.1h0M219.7 56.1h0M229.2 52.0h0M193.6 47.6h0M209.5 42.1h0M211.8 56.0h0M215.0 64.6h0M219.9 47.6h0M216.6 58.0h0M210.7 60.9h0M213.2 41.2h0M206.5 49.8h0M208.6 56.3h0M213.7 54.1h0M224.7 62.4h0M191.2 52.3h0M205.6 52.7h0M210.5 59.7h0M207.8 49.1h0M211.8 52.0h0M209.5 49.5h0M222.5 61.0h0M212.2 48.7h0M224.6 55.2h0M215.1 51.6h0M225.1 50.0h0M212.2 54.9h0M209.7 47.6h0M208.6 69.1h0M216.9 57.0h0M194.4 47.9h0M214.8 53.9h0M217.2 55.3h0M207.6 58.9h0M208.6 56.1h0M207.3 51.7h0M211.1 55.5h0M220.1 55.6h0M202.0 57.2h0M223.4 48.0h0M220.4 60.2h0M202.3 45.6h0M218.5 53.3h0M227.3 47.0h0M215.6 55.7h0M215.4 57.7h0M219.0 50.5h0M194.6 54.2h0M213.3 48.8h0M207.6 49.2h0M215.1 59.4h0M219.3 48.8h0M219.3 48.7h0M228.6 62.6h0M228.6 57.0h0M199.7 58.5h0M217.0 52.6h0M213.6 52.6h0M215.0 53.5h0M207.2 59.3h0M215.0 62.4h0M202.7 52.4h0M215.4 53.5h0M207.9 42.3h0M221.2 51.7h0M220.7 54.9h0M203.2 55.9h0M204.5 52.2h0M211.9 60.5h0M213.2 57.6h0M209.4 62.0h0M203.5 48.6h0M221.6 53.6h0M199.5 51.0h0M207.7 46.4h0M214.0 56.9h0M205.6 61.5h0M215.0 58.1h0M210.7 45.0h0M203.3 53.5h0M202.6 51.8h0M214.4 41.5h0M213.4 57.1h0M203.9 48.4h0M208.6 49.1h0M211.3 55.7h0M209.6 60.5h0M229.1 67.0h0M215.2 62.9h0M207.8 56.9h0M206.8 55.7h0M210.0 47.4h0M211.3 41.0h0M228.1 43.1h0M222.3 50.2h0M207.6 49.3h0M208.9 46.9h0M223.0 54.1h0M206.4 50.1h0M199.5 46.8h0M209.0 61.3h0M207.7 58.3h0M218.5 55.4h0M202.9 55.8h0M210.2 53.8h0M205.9 57.5h0M210.0 54.6h0M211.8 60.0h0M220.2 57.3h0M206.9 49.4h0M210.4 63.1h0M222.6 40.0h0M202.3 46.5h0M199.1 50.0h0M214.9 49.5h0M218.8 49.2h0M212.4 46.6h0M216.4 52.0h0M212.4 54.2h0M212.9 49.9h0M217.2 57.8h0M208.6 54.8h0M222.6 55.4h0M207.8 46.4h0M214.5 48.1h0M221.1 61.7h0M197.6 54.6h0M213.0 51.5h0M202.1 51.4h0M223.4 48.2h0M220.6 46.9h0M231.3 57.5h0M214.0 57.8h0M217.4 58.0h0M217.7 45.1h0M207.9 52.6h0M216.2 56.6h0M202.2 45.7h0M211.8 37.7h0M201.4 51.9h0M215.9 56.2h0M218.0 47.8h0M222.5 53.2h0M216.2 64.1h0M221.5 56.4h0M205.3 61.9h0" stroke="#000" stroke-opacity="0.6" stroke-width="0.80" stroke-linecap="round" fill="none" filter="url(#b03)"/>
<path d="M204.5,63.5 Q202.8,56 205.5,52.2 Q209,49.6 214,49.8 Q219.5,50.5 220,55.5 Q220.4,59.5 219.6,63.5" fill="url(#rg1)" stroke="#000" stroke-width="1.7"/>
<path d="M204.1,63 Q202.4,56 205.1,51.8 Q209,49.1 214,49.3" fill="none" stroke="#000" stroke-width="0.9" filter="url(#b05)"/>
<path d="M206.8,63 Q205.5,57.5 207.5,54.2 Q210.5,52 214,52.3 Q217.8,53 217.9,56.5 Q218,60.5 217.4,63" fill="none" stroke="#ddd" stroke-width="0.9"/>
<g filter="url(#b05)">
<ellipse cx="214.30" cy="57.40" rx="2.60" ry="3.20" fill="#333" fill-opacity="0.9" transform="rotate(0 214.30 57.40)" />
</g>
</g>
<text x="76.20" y="51.00" font-size="4.6" text-anchor="middle" font-weight="normal" fill="#444" stroke="#444" stroke-width="0.1" >0.6</text>
<text x="132.20" y="51.00" font-size="4.6" text-anchor="middle" font-weight="normal" fill="#444" stroke="#444" stroke-width="0.1" >1.37</text>
<text x="186.20" y="50.80" font-size="4.6" text-anchor="middle" font-weight="normal" fill="#444" stroke="#444" stroke-width="0.1" >1.02</text>
<text x="241.00" y="50.80" font-size="4.6" text-anchor="middle" font-weight="normal" fill="#444" stroke="#444" stroke-width="0.1" >1.52</text>
<text x="79.30" y="106.20" font-size="4.6" text-anchor="middle" font-weight="normal" fill="#444" stroke="#444" stroke-width="0.1" >59.9</text>
<text x="133.00" y="107.20" font-size="4.6" text-anchor="middle" font-weight="normal" fill="#444" stroke="#444" stroke-width="0.1" >49.3</text>
<text x="188.00" y="106.80" font-size="4.6" text-anchor="middle" font-weight="normal" fill="#444" stroke="#444" stroke-width="0.1" >10.1</text>
<text x="242.00" y="106.80" font-size="4.6" text-anchor="middle" font-weight="normal" fill="#444" stroke="#444" stroke-width="0.1" >8.4</text>
<g clip-path="url(#c2_0)">
<g filter="url(#b15)">
<ellipse cx="63.50" cy="98.00" rx="12.50" ry="6.00" fill="#000" fill-opacity="0.35" transform="rotate(-8 63.50 98.00)" />
<ellipse cx="58.00" cy="106.50" rx="10.00" ry="2.00" fill="#000" fill-opacity="0.25" transform="rotate(-3 58.00 106.50)" />
<ellipse cx="44.00" cy="105.70" rx="4.50" ry="4.30" fill="#000" fill-opacity="0.3" transform="rotate(0 44.00 105.70)" />
</g>
<path d="M66.1 97.5h0M61.5 94.1h0M70.9 95.6h0M67.4 96.4h0M71.7 96.7h0M66.9 100.6h0M62.0 97.5h0M62.7 98.5h0M68.0 98.3h0M64.7 100.7h0M64.4 94.2h0M73.3 90.6h0M78.0 90.6h0M52.7 97.0h0M70.4 93.9h0M70.0 100.5h0M58.5 98.3h0M67.9 98.7h0M57.9 92.5h0M58.4 95.5h0M64.2 98.0h0M57.5 95.2h0M58.9 99.2h0M67.3 99.1h0M71.4 100.4h0M60.6 102.7h0M54.8 101.2h0M62.1 91.9h0M76.4 103.6h0M71.6 91.5h0M45.2 103.2h0M65.4 95.3h0M56.7 92.4h0M62.7 90.3h0M51.7 98.7h0M74.2 99.0h0M71.9 101.5h0M69.5 95.1h0M65.7 98.2h0M58.9 98.4h0M62.1 93.2h0M51.7 99.7h0M69.1 100.5h0M73.2 97.9h0M64.5 95.8h0M52.5 88.8h0M61.4 100.5h0M64.2 104.8h0M75.9 99.3h0M63.4 104.1h0M74.5 91.9h0M67.6 101.7h0M57.8 105.6h0M62.4 100.3h0M60.8 99.2h0M66.4 103.2h0M61.4 100.3h0M69.0 96.1h0M66.2 92.3h0M52.5 97.7h0M49.8 96.5h0M61.0 95.7h0M57.7 95.2h0M66.9 96.7h0M44.1 103.5h0M75.5 98.7h0M71.9 93.9h0M76.6 98.4h0M63.3 102.4h0M65.9 94.8h0M63.9 99.8h0M61.7 99.7h0M57.5 92.4h0M72.8 98.2h0M66.3 91.5h0M63.2 102.5h0M59.0 94.6h0M80.9 95.5h0M67.4 97.0h0M74.1 97.3h0M57.8 97.4h0M65.0 104.2h0M63.8 97.4h0M73.1 100.7h0M59.6 99.5h0M70.1 96.1h0M71.0 98.7h0M54.4 102.2h0M63.6 96.5h0M46.9 101.7h0M47.1 101.0h0M74.6 92.6h0M61.1 96.9h0M70.1 96.7h0M60.8 102.4h0M50.0 98.5h0M45.9 98.5h0M65.4 92.6h0M62.5 103.3h0M50.1 99.8h0M62.2 104.6h0M62.1 96.0h0M71.7 95.3h0M57.0 100.1h0M53.3 103.7h0M71.1 95.0h0M54.7 98.4h0M76.2 101.5h0M61.9 98.6h0M64.6 100.9h0M64.3 95.7h0M73.8 103.1h0M58.4 106.6h0M66.9 97.6h0M65.9 101.2h0M56.5 98.2h0M81.8 93.5h0M41.9 96.7h0M76.4 88.6h0M60.2 97.6h0M61.1 97.9h0M42.9 107.2h0M54.5 102.7h0M75.1 94.6h0M56.9 101.9h0M74.0 100.9h0M59.0 96.1h0M49.8 102.9h0M68.9 98.0h0M53.1 94.8h0M52.5 98.2h0M73.8 96.8h0M60.5 97.9h0M57.5 98.3h0M56.3 104.3h0M64.1 97.4h0M73.5 99.3h0M73.1 94.3h0M57.1 104.0h0M65.9 97.0h0M71.9 97.7h0M60.7 94.1h0M58.9 98.9h0M64.8 98.7h0M57.5 99.4h0M55.4 97.1h0M58.5 104.3h0M59.4 102.0h0M51.9 101.2h0M76.3 95.5h0M76.7 96.2h0M52.2 98.8h0M64.9 97.9h0M67.5 97.6h0M73.4 100.4h0M63.7 94.3h0M65.8 101.5h0M68.2 99.2h0M48.0 102.8h0M62.7 96.3h0M68.7 87.6h0M67.0 96.1h0M46.5 95.8h0M63.9 102.7h0M48.8 93.3h0M67.1 93.9h0M58.8 97.3h0M65.7 95.2h0M61.0 96.6h0M60.4 91.9h0" stroke="#000" stroke-opacity="0.55" stroke-width="0.76" stroke-linecap="round" fill="none" filter="url(#b03)"/>
<path d="M45.4 104.9h0M45.9 107.8h0M66.9 105.3h0M56.6 104.0h0M59.4 106.1h0M71.5 110.6h0M57.8 105.3h0M57.7 105.5h0M52.6 108.1h0M58.6 107.3h0M46.5 107.0h0M53.2 108.9h0M60.7 106.3h0M57.4 107.2h0M54.3 105.2h0M52.4 107.2h0M60.1 103.7h0M43.9 108.2h0M58.9 107.9h0M63.5 105.9h0M59.3 106.8h0M50.9 104.2h0M66.7 106.6h0M52.4 107.7h0M58.8 108.0h0M69.5 108.7h0M61.2 108.2h0M50.5 105.1h0M48.4 107.3h0M62.5 105.9h0M60.1 107.7h0M57.4 104.9h0M55.6 107.0h0M66.2 107.7h0M59.3 108.2h0M58.6 107.8h0M64.5 109.4h0M51.4 105.5h0M60.2 109.4h0M54.0 106.4h0M66.4 109.6h0M54.5 108.2h0M71.5 107.6h0M58.4 108.5h0M56.2 104.6h0M53.6 107.6h0M55.8 105.5h0M42.9 104.6h0M68.5 104.8h0M54.1 106.2h0M64.6 102.9h0M56.4 107.1h0M49.7 106.6h0M65.7 103.9h0M49.1 107.8h0M46.4 107.4h0M50.4 105.1h0M61.0 109.2h0M63.9 106.6h0M56.3 106.5h0M52.3 105.9h0M56.3 107.1h0M50.4 108.3h0M72.5 106.7h0M67.6 105.8h0M44.0 106.3h0M51.2 104.9h0M48.4 107.3h0M55.6 107.2h0M60.0 104.1h0M71.9 105.8h0M66.2 105.9h0M62.8 105.7h0M48.2 104.9h0M52.5 107.5h0M64.7 107.7h0M54.9 108.4h0M53.6 106.0h0M56.1 106.9h0M51.2 104.6h0" stroke="#000" stroke-opacity="0.45" stroke-width="0.70" stroke-linecap="round" fill="none" filter="url(#b03)"/>
<g filter="url(#b05)">
<ellipse cx="44.00" cy="105.70" rx="3.70" ry="3.60" fill="#666" fill-opacity="0.9" transform="rotate(0 44.00 105.70)" />
<ellipse cx="44.20" cy="105.50" rx="1.40" ry="1.30" fill="#bbb" fill-opacity="1" transform="rotate(0 44.20 105.50)" />
</g>
<ellipse cx="44.00" cy="105.70" rx="3.70" ry="3.60" fill="none" stroke="#222" stroke-width="1.2" stroke-opacity="1" transform="rotate(0 44.00 105.70)"/>
<ellipse cx="44.00" cy="105.70" rx="2.20" ry="2.10" fill="none" stroke="#333" stroke-width="0.6" stroke-opacity="1" transform="rotate(0 44.00 105.70)"/>
<path d="M50.90,97.90 C50.65,96.73 53.30,95.78 55.00,95.00 C56.70,94.22 59.10,93.63 61.10,93.20 C63.10,92.77 65.15,92.52 67.00,92.40 C68.85,92.28 70.72,91.75 72.20,92.50 C73.68,93.25 75.77,95.40 75.90,96.90 C76.03,98.40 74.23,100.33 73.00,101.50 C71.77,102.67 70.33,103.60 68.50,103.90 C66.67,104.20 64.00,103.62 62.00,103.30 C60.00,102.98 58.35,102.90 56.50,102.00 C54.65,101.10 51.15,99.07 50.90,97.90 Z" fill="none" stroke="#222" stroke-width="0.9"/>
<path d="M53.52,97.92 C53.32,96.99 55.44,96.23 56.80,95.60 C58.16,94.97 60.08,94.51 61.68,94.16 C63.28,93.81 64.92,93.61 66.40,93.52 C67.88,93.43 69.37,93.00 70.56,93.60 C71.75,94.20 73.41,95.92 73.52,97.12 C73.63,98.32 72.19,99.87 71.20,100.80 C70.21,101.73 69.07,102.48 67.60,102.72 C66.13,102.96 64.00,102.49 62.40,102.24 C60.80,101.99 59.48,101.92 58.00,101.20 C56.52,100.48 53.72,98.85 53.52,97.92 Z" fill="none" stroke="#333" stroke-width="0.8"/>
<path d="M59.5,94.6 Q66,92.4 73,94" fill="none" stroke="#000" stroke-width="2.4" filter="url(#b05)"/>
<path d="M66,102.8 Q70,102 73,99.5" fill="none" stroke="#000" stroke-width="1.8" filter="url(#b05)"/>
<ellipse cx="62.60" cy="98.30" rx="2.30" ry="2.50" fill="none" stroke="#222" stroke-width="1.0" stroke-opacity="1" transform="rotate(0 62.60 98.30)"/>
<ellipse cx="67.00" cy="98.10" rx="2.30" ry="2.50" fill="none" stroke="#222" stroke-width="1.0" stroke-opacity="1" transform="rotate(0 67.00 98.10)"/>
<ellipse cx="66.00" cy="101.70" rx="6.50" ry="1.80" fill="none" stroke="#333" stroke-width="0.7" stroke-opacity="1" transform="rotate(-5 66.00 101.70)"/>
<path d="M48,104 Q52,101 56,100.5" fill="none" stroke="#555" stroke-width="0.6"/>
<path d="M48,107 Q58,105.5 70,106" fill="none" stroke="#666" stroke-width="0.5"/>
</g>
<g clip-path="url(#c2_1)">
<g filter="url(#b15)">
<ellipse cx="118.50" cy="100.20" rx="10.00" ry="4.50" fill="#000" fill-opacity="0.45" transform="rotate(-10 118.50 100.20)" />
<ellipse cx="110.00" cy="106.50" rx="10.00" ry="2.00" fill="#000" fill-opacity="0.25" transform="rotate(-3 110.00 106.50)" />
<ellipse cx="98.50" cy="105.70" rx="4.80" ry="4.50" fill="#000" fill-opacity="0.35" transform="rotate(0 98.50 105.70)" />
</g>
<path d="M132.9 101.9h0M125.3 103.2h0M123.5 95.3h0M116.4 103.5h0M113.5 93.5h0M113.0 98.1h0M113.0 103.4h0M116.1 97.7h0M108.3 101.3h0M116.5 100.1h0M120.1 104.9h0M105.7 100.2h0M122.9 100.4h0M106.6 102.5h0M122.8 104.5h0M113.3 102.7h0M119.4 99.0h0M123.3 98.5h0M115.3 102.5h0M105.2 103.9h0M120.2 103.9h0M112.7 102.4h0M125.9 102.6h0M111.6 103.4h0M115.2 100.1h0M123.0 93.8h0M118.6 106.0h0M115.8 98.5h0M117.9 101.8h0M111.8 103.3h0M110.2 102.2h0M114.5 100.6h0M120.1 104.0h0M113.9 101.6h0M116.2 109.2h0M120.6 95.4h0M114.0 103.7h0M114.9 97.3h0M116.7 100.1h0M116.6 98.8h0M114.6 104.4h0M124.5 98.4h0M114.9 99.4h0M122.7 98.8h0M107.7 101.1h0M115.1 97.9h0M117.3 100.3h0M126.7 98.6h0M113.4 100.0h0M108.3 102.8h0M115.1 101.8h0M123.6 105.4h0M120.9 103.5h0M116.5 98.7h0M120.2 96.9h0M122.3 99.1h0M112.4 102.8h0M117.5 103.8h0M112.0 102.9h0M121.8 97.8h0M129.1 100.3h0M116.6 101.0h0M117.5 95.7h0M110.0 97.2h0M117.4 106.4h0M109.8 106.5h0M126.8 98.9h0M108.5 104.5h0M115.8 97.3h0M123.9 100.9h0M117.4 100.1h0M105.7 106.3h0M116.4 98.5h0M124.4 102.4h0M113.5 99.6h0M96.6 103.3h0M112.4 98.4h0M125.4 100.5h0M135.8 98.5h0M108.6 101.7h0M117.0 99.9h0M121.9 95.6h0M132.3 100.9h0M130.8 91.3h0M131.4 101.9h0M118.6 98.1h0M127.5 101.0h0M126.3 100.5h0M119.9 97.3h0M114.9 103.8h0M120.0 100.9h0M105.9 100.4h0M121.2 99.9h0M114.7 106.4h0M115.8 105.9h0M130.3 96.1h0M109.5 98.5h0M120.1 98.8h0M112.9 105.6h0M106.4 103.3h0M128.8 97.8h0M108.2 99.6h0M120.7 99.4h0M129.9 100.0h0M123.5 96.0h0M112.9 102.1h0M128.6 98.2h0M128.0 98.3h0M120.8 98.3h0M117.2 99.3h0M115.0 104.0h0M96.1 102.9h0M115.6 99.9h0M120.6 95.1h0M124.7 93.1h0M119.0 96.7h0M116.7 99.9h0M113.4 103.5h0M117.6 99.5h0M119.8 102.4h0M120.9 103.3h0M124.1 99.3h0M119.2 100.5h0M117.3 97.6h0M123.2 99.4h0M123.8 99.0h0M133.7 96.7h0M115.7 101.7h0M110.9 99.0h0M115.3 99.7h0M120.9 97.6h0M117.1 101.8h0M125.5 99.6h0M122.3 101.7h0M116.2 95.7h0M113.5 102.0h0M112.9 99.2h0M129.6 98.0h0M121.1 98.1h0M118.2 97.3h0M118.2 102.0h0M108.0 101.9h0M118.1 101.8h0M110.5 99.9h0M114.6 95.1h0M128.5 105.7h0M116.0 105.7h0M120.0 105.3h0M113.5 104.3h0M126.0 95.6h0M117.7 93.8h0M113.8 102.5h0M121.7 96.3h0M116.8 109.3h0M127.2 95.5h0M106.2 103.9h0M113.7 102.8h0M121.1 96.1h0M117.7 99.4h0M110.8 101.3h0" stroke="#000" stroke-opacity="0.55" stroke-width="0.76" stroke-linecap="round" fill="none" filter="url(#b03)"/>
<path d="M122.0 105.5h0M102.4 107.3h0M114.4 101.6h0M106.9 107.3h0M109.9 107.0h0M96.2 103.4h0M115.7 108.9h0M116.7 109.8h0M104.6 106.3h0M116.6 106.4h0M116.2 105.7h0M104.3 105.6h0M100.2 108.0h0M120.5 107.8h0M117.1 106.7h0M109.6 105.7h0M118.3 107.6h0M111.5 106.4h0M107.1 104.9h0M122.4 106.0h0M122.2 106.0h0M105.9 105.8h0M103.1 109.2h0M115.2 108.0h0M109.6 106.6h0M116.0 105.7h0M114.2 104.6h0M118.8 106.2h0M104.2 106.0h0M113.7 106.2h0M119.5 103.3h0M117.0 107.9h0M122.0 106.6h0M109.7 105.4h0M113.3 105.3h0M120.6 106.7h0M111.7 105.2h0M114.5 108.7h0M109.9 105.9h0M117.8 108.1h0M113.1 105.6h0M104.4 105.1h0M123.7 106.5h0M108.2 106.8h0M116.1 107.2h0M110.7 105.7h0M97.9 105.7h0M100.7 106.1h0M127.3 108.4h0M126.9 104.7h0M113.3 108.6h0M112.0 105.6h0M123.7 108.4h0M95.2 106.1h0M95.5 109.2h0M110.8 105.5h0M113.6 110.2h0M128.5 108.2h0M100.0 104.2h0M112.9 106.9h0M121.0 105.2h0M109.8 108.8h0M119.8 108.0h0M103.9 105.2h0M106.3 107.9h0M112.1 107.1h0M104.9 106.8h0M109.1 107.2h0M112.8 104.4h0M119.1 107.2h0M98.3 108.5h0M107.7 107.8h0M96.9 106.7h0M131.7 106.0h0M113.7 106.6h0M111.3 109.0h0M118.3 105.1h0M117.3 107.4h0M108.0 108.5h0M121.9 107.6h0" stroke="#000" stroke-opacity="0.45" stroke-width="0.70" stroke-linecap="round" fill="none" filter="url(#b03)"/>
<g filter="url(#b05)">
<ellipse cx="98.50" cy="105.70" rx="3.90" ry="3.80" fill="#555" fill-opacity="0.95" transform="rotate(0 98.50 105.70)" />
<ellipse cx="98.80" cy="105.50" rx="1.50" ry="1.40" fill="#aaa" fill-opacity="1" transform="rotate(0 98.80 105.50)" />
</g>
<ellipse cx="98.50" cy="105.70" rx="4.00" ry="3.90" fill="none" stroke="#111" stroke-width="1.3" stroke-opacity="1" transform="rotate(0 98.50 105.70)"/>
<ellipse cx="98.50" cy="105.70" rx="2.30" ry="2.20" fill="none" stroke="#333" stroke-width="0.6" stroke-opacity="1" transform="rotate(0 98.50 105.70)"/>
<path d="M106.80,98.80 L116.00,91.40 L128.00,91.40 L131.70,96.90 L129.50,101.50 L121.00,103.50 L112.00,103.00 Z" stroke="#333" stroke-width="0.85" fill="none" stroke-linejoin="miter" />
<path d="M107.5,101 Q112,96.5 119,96 Q125.5,96.5 126,100.5 Q125,104.8 117,104.5 Q109.5,104 107.5,101 Z" fill="none" stroke="#111" stroke-width="1.1"/>
<g filter="url(#b05)">
<path d="M111,100.5 Q116,97 122,97.8 Q124.5,100.5 121,103 Q115,103.5 111,100.5 Z" fill="#000" fill-opacity="0.85"/>
<ellipse cx="121.00" cy="101.20" rx="1.90" ry="1.20" fill="#fff" fill-opacity="0.9" transform="rotate(0 121.00 101.20)" />
</g>
<path d="M102.5,104 Q106,101.5 108,101" fill="none" stroke="#555" stroke-width="0.6"/>
</g>
<g clip-path="url(#c2_2)">
<g filter="url(#b15)">
<path d="M155,101.5 L175,101 L184,102.5 L183,107.5 L172,109.5 L155,109 Z" fill="#000" fill-opacity="0.22"/>
</g>
<g filter="url(#b1)">
<path d="M156,102.3 L168,102.8 L174,104 L168,106 L156,107.8 Z" fill="#000" fill-opacity="0.55"/>
</g>
<path d="M157,103.8 Q168,101.4 182.6,98.9" fill="none" stroke="#444" stroke-width="0.45" stroke-opacity="0.8"/>
<path d="M157,104.2 Q168,102.4 182.0,100.6" fill="none" stroke="#444" stroke-width="0.45" stroke-opacity="0.8"/>
<path d="M157,104.6 Q168,103.5 181.5,102.3" fill="none" stroke="#444" stroke-width="0.45" stroke-opacity="0.8"/>
<path d="M157,105.0 Q168,104.5 181.0,104.0" fill="none" stroke="#444" stroke-width="0.45" stroke-opacity="0.8"/>
<path d="M157,105.4 Q168,105.5 181.5,105.7" fill="none" stroke="#444" stroke-width="0.45" stroke-opacity="0.8"/>
<path d="M157,105.8 Q168,106.6 182.0,107.4" fill="none" stroke="#444" stroke-width="0.45" stroke-opacity="0.8"/>
<path d="M157,106.2 Q168,107.6 182.6,109.1" fill="none" stroke="#444" stroke-width="0.45" stroke-opacity="0.8"/>
<g filter="url(#b1)">
<ellipse cx="154.50" cy="105.40" rx="5.00" ry="4.30" fill="#000" fill-opacity="1" transform="rotate(0 154.50 105.40)" />
</g>
<g filter="url(#b05)">
<ellipse cx="154.60" cy="105.50" rx="3.60" ry="3.00" fill="#000" fill-opacity="1" transform="rotate(0 154.60 105.50)" />
<ellipse cx="155.00" cy="105.60" rx="1.60" ry="1.30" fill="#fff" fill-opacity="1" transform="rotate(0 155.00 105.60)" />
</g>
<path d="M161.20,98.80 L170.00,91.80 L182.90,91.80 L186.20,98.80 L183.90,102.00 L163.50,101.50 Z" stroke="#333" stroke-width="0.8" fill="none" stroke-linejoin="miter" />
</g>
<g clip-path="url(#c2_3)">
<g filter="url(#b15)">
<path d="M209,101.5 L228,100.5 L237,101.5 L236,107.5 L226,109.5 L209,109 Z" fill="#000" fill-opacity="0.2"/>
</g>
<g filter="url(#b1)">
<path d="M210,102.5 L220,102.8 L226,104 L220,106 L210,107.8 Z" fill="#000" fill-opacity="0.45"/>
</g>
<path d="M211,104.1 Q222,101.6 235.2,99.1" fill="none" stroke="#555" stroke-width="0.5" stroke-opacity="0.8"/>
<path d="M211,104.5 Q222,102.8 234.6,101.0" fill="none" stroke="#555" stroke-width="0.5" stroke-opacity="0.8"/>
<path d="M211,105.0 Q222,104.0 234.0,103.0" fill="none" stroke="#555" stroke-width="0.5" stroke-opacity="0.8"/>
<path d="M211,105.5 Q222,105.2 234.6,105.0" fill="none" stroke="#555" stroke-width="0.5" stroke-opacity="0.8"/>
<path d="M211,105.9 Q222,106.4 235.2,106.9" fill="none" stroke="#555" stroke-width="0.5" stroke-opacity="0.8"/>
<path d="M222,104.5 Q228,98.5 234,100 Q236.5,104 229,105.5 Z" fill="none" stroke="#555" stroke-width="0.7"/>
<path d="M214,105 Q222,103 230,104.5 Q224,107.5 214,106.5 Z" fill="none" stroke="#444" stroke-width="0.6"/>
<g filter="url(#b1)">
<ellipse cx="207.80" cy="105.20" rx="5.20" ry="4.60" fill="#000" fill-opacity="0.9" transform="rotate(0 207.80 105.20)" />
</g>
<g filter="url(#b05)">
<ellipse cx="208.00" cy="105.30" rx="3.40" ry="3.00" fill="#666" fill-opacity="1" transform="rotate(0 208.00 105.30)" />
<ellipse cx="208.30" cy="105.50" rx="1.50" ry="1.30" fill="#fff" fill-opacity="1" transform="rotate(0 208.30 105.50)" />
</g>
<ellipse cx="207.90" cy="105.30" rx="4.20" ry="3.80" fill="none" stroke="#000" stroke-width="1.1" stroke-opacity="1" transform="rotate(0 207.90 105.30)"/>
<path d="M215.20,98.30 L224.90,91.40 L236.90,91.40 L240.20,97.90 L237.90,102.50 L235.00,104.00 L218.00,100.00 Z" stroke="#444" stroke-width="0.8" fill="none" stroke-linejoin="miter" />
</g>
<text x="5.90" y="156.30" font-size="14" text-anchor="start" font-weight="bold" fill="#000" stroke="#000" stroke-width="0.1" >B</text>
<line x1="55.30" y1="143.50" x2="55.30" y2="257.40" stroke="#000" stroke-width="1.5" />
<line x1="54.60" y1="256.70" x2="224.00" y2="256.70" stroke="#000" stroke-width="1.5" />
<line x1="50.80" y1="256.70" x2="55.30" y2="256.70" stroke="#000" stroke-width="1.3" />
<text x="50.30" y="259.70" font-size="8.4" text-anchor="end" font-weight="normal" fill="#000" stroke="#000" stroke-width="0.22" >0</text>
<line x1="50.80" y1="228.55" x2="55.30" y2="228.55" stroke="#000" stroke-width="1.3" />
<text x="50.30" y="231.55" font-size="8.4" text-anchor="end" font-weight="normal" fill="#000" stroke="#000" stroke-width="0.22" >20</text>
<line x1="50.80" y1="200.40" x2="55.30" y2="200.40" stroke="#000" stroke-width="1.3" />
<text x="50.30" y="203.40" font-size="8.4" text-anchor="end" font-weight="normal" fill="#000" stroke="#000" stroke-width="0.22" >40</text>
<line x1="50.80" y1="172.25" x2="55.30" y2="172.25" stroke="#000" stroke-width="1.3" />
<text x="50.30" y="175.25" font-size="8.4" text-anchor="end" font-weight="normal" fill="#000" stroke="#000" stroke-width="0.22" >60</text>
<line x1="50.80" y1="144.10" x2="55.30" y2="144.10" stroke="#000" stroke-width="1.3" />
<text x="50.30" y="147.10" font-size="8.4" text-anchor="end" font-weight="normal" fill="#000" stroke="#000" stroke-width="0.22" >80</text>
<rect x="62.00" y="172.25" width="29" height="84.45" fill="#000"/>
<line x1="76.50" y1="256.70" x2="76.50" y2="260.20" stroke="#000" stroke-width="1.2" />
<rect x="104.75" y="182.15" width="27.5" height="74.55" fill="#fff" stroke="#000" stroke-width="1.5"/>
<line x1="118.50" y1="181.40" x2="118.50" y2="180.27" stroke="#000" stroke-width="1.3" />
<line x1="115.00" y1="180.27" x2="122.00" y2="180.27" stroke="#000" stroke-width="1.3" />
<line x1="118.50" y1="256.70" x2="118.50" y2="260.20" stroke="#000" stroke-width="1.2" />
<rect x="146.30" y="230.66" width="29" height="26.04" fill="#000"/>
<line x1="160.80" y1="230.66" x2="160.80" y2="224.05" stroke="#000" stroke-width="1.3" />
<line x1="157.30" y1="224.05" x2="164.30" y2="224.05" stroke="#000" stroke-width="1.3" />
<line x1="160.80" y1="256.70" x2="160.80" y2="260.20" stroke="#000" stroke-width="1.2" />
<rect x="189.25" y="240.00" width="27.5" height="16.70" fill="#fff" stroke="#000" stroke-width="1.5"/>
<line x1="203.00" y1="239.25" x2="203.00" y2="234.60" stroke="#000" stroke-width="1.3" />
<line x1="199.50" y1="234.60" x2="206.50" y2="234.60" stroke="#000" stroke-width="1.3" />
<line x1="203.00" y1="256.70" x2="203.00" y2="260.20" stroke="#000" stroke-width="1.2" />
<text x="0.00" y="0.00" font-size="8.4" text-anchor="middle" font-weight="normal" fill="#000" stroke="#000" stroke-width="0.22" transform="translate(28.5 200) rotate(-90)">% of CD4</text>
<text x="77.40" y="268.60" font-size="8.3" text-anchor="end" font-weight="normal" fill="#000" stroke="#000" stroke-width="0.22" transform="rotate(-45 77.40 268.60)">WT BM</text>
<text x="119.40" y="268.60" font-size="8.3" text-anchor="end" font-weight="normal" fill="#000" stroke="#000" stroke-width="0.22" transform="rotate(-45 119.40 268.60)">WT BM + NK</text>
<text x="161.70" y="268.60" font-size="8.3" text-anchor="end" font-weight="normal" fill="#000" stroke="#000" stroke-width="0.22" transform="rotate(-45 161.70 268.60)">DEREG BM</text>
<text x="203.90" y="268.60" font-size="8.3" text-anchor="end" font-weight="normal" fill="#000" stroke="#000" stroke-width="0.22" transform="rotate(-45 203.90 268.60)">DEREG BM + NK</text>
<text x="264.00" y="20.40" font-size="14" text-anchor="start" font-weight="bold" fill="#000" stroke="#000" stroke-width="0.1" >C</text>
<line x1="314.30" y1="4.00" x2="314.30" y2="88.00" stroke="#000" stroke-width="1.5" />
<line x1="313.60" y1="87.30" x2="437.80" y2="87.30" stroke="#000" stroke-width="1.5" />
<line x1="311.00" y1="87.30" x2="314.30" y2="87.30" stroke="#000" stroke-width="1.2" />
<text x="311.40" y="89.65" font-size="6.6" text-anchor="end" font-weight="normal" fill="#000" stroke="#000" stroke-width="0.22" >0</text>
<line x1="311.00" y1="66.55" x2="314.30" y2="66.55" stroke="#000" stroke-width="1.2" />
<text x="311.40" y="68.90" font-size="6.6" text-anchor="end" font-weight="normal" fill="#000" stroke="#000" stroke-width="0.22" >200</text>
<line x1="311.00" y1="45.80" x2="314.30" y2="45.80" stroke="#000" stroke-width="1.2" />
<text x="311.40" y="48.15" font-size="6.6" text-anchor="end" font-weight="normal" fill="#000" stroke="#000" stroke-width="0.22" >400</text>
<line x1="311.00" y1="25.05" x2="314.30" y2="25.05" stroke="#000" stroke-width="1.2" />
<text x="311.40" y="27.40" font-size="6.6" text-anchor="end" font-weight="normal" fill="#000" stroke="#000" stroke-width="0.22" >600</text>
<line x1="311.00" y1="4.30" x2="314.30" y2="4.30" stroke="#000" stroke-width="1.2" />
<text x="311.40" y="6.65" font-size="6.6" text-anchor="end" font-weight="normal" fill="#000" stroke="#000" stroke-width="0.22" >800</text>
<line x1="314.30" y1="87.30" x2="314.30" y2="90.30" stroke="#000" stroke-width="1.2" />
<text x="314.30" y="96.80" font-size="6.6" text-anchor="middle" font-weight="normal" fill="#000" stroke="#000" stroke-width="0.22" >0</text>
<line x1="355.65" y1="87.30" x2="355.65" y2="90.30" stroke="#000" stroke-width="1.2" />
<text x="355.65" y="96.80" font-size="6.6" text-anchor="middle" font-weight="normal" fill="#000" stroke="#000" stroke-width="0.22" >5</text>
<line x1="397.00" y1="87.30" x2="397.00" y2="90.30" stroke="#000" stroke-width="1.2" />
<text x="397.00" y="96.80" font-size="6.6" text-anchor="middle" font-weight="normal" fill="#000" stroke="#000" stroke-width="0.22" >10</text>
<line x1="438.35" y1="87.30" x2="438.35" y2="90.30" stroke="#000" stroke-width="1.2" />
<text x="438.35" y="96.80" font-size="6.6" text-anchor="middle" font-weight="normal" fill="#000" stroke="#000" stroke-width="0.22" >15</text>
<text x="376.80" y="106.80" font-size="6.9" text-anchor="middle" font-weight="normal" fill="#000" stroke="#000" stroke-width="0.22" >Days post NK</text>
<text x="0.00" y="0.00" font-size="6.4" text-anchor="middle" font-weight="normal" fill="#000" stroke="#000" stroke-width="0.22" transform="translate(292.8 46.0) rotate(-90)">tumor size mm<tspan font-size="4.2" dy="-2.2">2</tspan></text>
<line x1="314.30" y1="56.17" x2="314.30" y2="69.66" stroke="#000" stroke-width="1.0" />
<line x1="312.80" y1="56.47" x2="315.80" y2="56.47" stroke="#000" stroke-width="1.6" />
<line x1="312.80" y1="69.36" x2="315.80" y2="69.36" stroke="#000" stroke-width="1.6" />
<line x1="347.38" y1="44.76" x2="347.38" y2="66.55" stroke="#000" stroke-width="1.0" />
<line x1="345.88" y1="45.06" x2="348.88" y2="45.06" stroke="#000" stroke-width="1.6" />
<line x1="345.88" y1="66.25" x2="348.88" y2="66.25" stroke="#000" stroke-width="1.6" />
<line x1="372.19" y1="32.52" x2="372.19" y2="58.46" stroke="#000" stroke-width="1.0" />
<line x1="370.69" y1="32.82" x2="373.69" y2="32.82" stroke="#000" stroke-width="1.6" />
<line x1="370.69" y1="58.16" x2="373.69" y2="58.16" stroke="#000" stroke-width="1.6" />
<line x1="405.27" y1="25.78" x2="405.27" y2="63.13" stroke="#000" stroke-width="1.0" />
<line x1="403.77" y1="26.08" x2="406.77" y2="26.08" stroke="#000" stroke-width="1.6" />
<line x1="403.77" y1="62.83" x2="406.77" y2="62.83" stroke="#000" stroke-width="1.6" />
<line x1="430.08" y1="16.65" x2="430.08" y2="63.13" stroke="#000" stroke-width="1.0" />
<line x1="428.58" y1="16.95" x2="431.58" y2="16.95" stroke="#000" stroke-width="1.6" />
<line x1="428.58" y1="62.83" x2="431.58" y2="62.83" stroke="#000" stroke-width="1.6" />
<path d="M314.30,61.88 L347.38,46.84 L372.19,48.70 L405.27,43.21 L430.08,38.74" stroke="#000" stroke-width="1.9" fill="none" stroke-linejoin="miter" />
<path d="M314.30,61.05 L347.38,58.25 L372.19,45.80 L405.27,39.58 L430.08,33.56" stroke="#000" stroke-width="1.9" fill="none" stroke-linejoin="miter" />
<path d="M314.30,68.83 L347.38,57.42 L372.19,48.08 L405.27,42.17 L430.08,38.43" stroke="#000" stroke-width="1.9" fill="none" stroke-linejoin="miter" />
<path d="M314.30,65.31 L347.38,57.00 L372.19,49.95 L405.27,50.78 L430.08,47.05" stroke="#000" stroke-width="1.9" fill="none" stroke-linejoin="miter" />
<circle cx="314.30" cy="61.88" r="2.60" fill="#000"/>
<circle cx="347.38" cy="46.84" r="2.60" fill="#000"/>
<circle cx="372.19" cy="48.70" r="2.60" fill="#000"/>
<circle cx="405.27" cy="43.21" r="2.60" fill="#000"/>
<circle cx="430.08" cy="38.74" r="2.60" fill="#000"/>
<rect x="311.70" y="58.45" width="5.20" height="5.20" fill="#000"/>
<rect x="344.78" y="55.65" width="5.20" height="5.20" fill="#000"/>
<rect x="369.59" y="43.20" width="5.20" height="5.20" fill="#000"/>
<rect x="402.67" y="36.98" width="5.20" height="5.20" fill="#000"/>
<rect x="427.48" y="30.96" width="5.20" height="5.20" fill="#000"/>
<path d="M314.30,65.97 L317.16,70.91 L311.44,70.91 Z" fill="#000"/>
<path d="M347.38,54.56 L350.24,59.50 L344.52,59.50 Z" fill="#000"/>
<path d="M372.19,45.22 L375.05,50.16 L369.33,50.16 Z" fill="#000"/>
<path d="M405.27,39.31 L408.13,44.25 L402.41,44.25 Z" fill="#000"/>
<path d="M430.08,35.57 L432.94,40.51 L427.22,40.51 Z" fill="#000"/>
<path d="M314.30,68.17 L317.16,63.23 L311.44,63.23 Z" fill="#000"/>
<path d="M347.38,59.86 L350.24,54.92 L344.52,54.92 Z" fill="#000"/>
<path d="M372.19,52.81 L375.05,47.87 L369.33,47.87 Z" fill="#000"/>
<path d="M405.27,53.64 L408.13,48.70 L402.41,48.70 Z" fill="#000"/>
<path d="M430.08,49.91 L432.94,44.97 L427.22,44.97 Z" fill="#000"/>
<line x1="446.20" y1="10.80" x2="456.80" y2="10.80" stroke="#000" stroke-width="2.0" />
<circle cx="451.50" cy="10.80" r="2.30" fill="#000"/>
<text x="461.10" y="13.20" font-size="6.65" text-anchor="start" font-weight="normal" fill="#000" stroke="#000" stroke-width="0.22" >Tumor alone</text>
<line x1="446.20" y1="20.25" x2="456.80" y2="20.25" stroke="#000" stroke-width="2.0" />
<rect x="449.20" y="17.95" width="4.60" height="4.60" fill="#000"/>
<text x="461.10" y="22.65" font-size="6.65" text-anchor="start" font-weight="normal" fill="#000" stroke="#000" stroke-width="0.22" >Tumor + NK</text>
<line x1="446.20" y1="29.70" x2="456.80" y2="29.70" stroke="#000" stroke-width="2.0" />
<path d="M451.50,27.17 L454.03,31.54 L448.97,31.54 Z" fill="#000"/>
<text x="461.10" y="32.10" font-size="6.65" text-anchor="start" font-weight="normal" fill="#000" stroke="#000" stroke-width="0.22" >Tumor + DT</text>
<line x1="446.20" y1="39.15" x2="456.80" y2="39.15" stroke="#000" stroke-width="2.0" />
<path d="M451.50,41.68 L454.03,37.31 L448.97,37.31 Z" fill="#000"/>
<text x="461.10" y="41.55" font-size="6.65" text-anchor="start" font-weight="normal" fill="#000" stroke="#000" stroke-width="0.22" >Tumor + DT + NK</text>
<text x="273.70" y="154.40" font-size="14" text-anchor="start" font-weight="bold" fill="#000" stroke="#000" stroke-width="0.1" >D</text>
<line x1="311.20" y1="173.80" x2="311.20" y2="260.40" stroke="#000" stroke-width="1.5" />
<line x1="310.50" y1="259.70" x2="440.20" y2="259.70" stroke="#000" stroke-width="1.5" />
<line x1="307.90" y1="259.70" x2="311.20" y2="259.70" stroke="#000" stroke-width="1.2" />
<text x="308.30" y="262.05" font-size="6.6" text-anchor="end" font-weight="normal" fill="#000" stroke="#000" stroke-width="0.22" >0</text>
<line x1="307.90" y1="242.58" x2="311.20" y2="242.58" stroke="#000" stroke-width="1.2" />
<text x="308.30" y="244.93" font-size="6.6" text-anchor="end" font-weight="normal" fill="#000" stroke="#000" stroke-width="0.22" >100</text>
<line x1="307.90" y1="225.46" x2="311.20" y2="225.46" stroke="#000" stroke-width="1.2" />
<text x="308.30" y="227.81" font-size="6.6" text-anchor="end" font-weight="normal" fill="#000" stroke="#000" stroke-width="0.22" >200</text>
<line x1="307.90" y1="208.34" x2="311.20" y2="208.34" stroke="#000" stroke-width="1.2" />
<text x="308.30" y="210.69" font-size="6.6" text-anchor="end" font-weight="normal" fill="#000" stroke="#000" stroke-width="0.22" >300</text>
<line x1="307.90" y1="191.22" x2="311.20" y2="191.22" stroke="#000" stroke-width="1.2" />
<text x="308.30" y="193.57" font-size="6.6" text-anchor="end" font-weight="normal" fill="#000" stroke="#000" stroke-width="0.22" >400</text>
<line x1="307.90" y1="174.10" x2="311.20" y2="174.10" stroke="#000" stroke-width="1.2" />
<text x="308.30" y="176.45" font-size="6.6" text-anchor="end" font-weight="normal" fill="#000" stroke="#000" stroke-width="0.22" >500</text>
<line x1="311.20" y1="259.70" x2="311.20" y2="262.70" stroke="#000" stroke-width="1.2" />
<text x="311.20" y="269.20" font-size="6.6" text-anchor="middle" font-weight="normal" fill="#000" stroke="#000" stroke-width="0.22" >0</text>
<line x1="343.30" y1="259.70" x2="343.30" y2="262.70" stroke="#000" stroke-width="1.2" />
<text x="343.30" y="269.20" font-size="6.6" text-anchor="middle" font-weight="normal" fill="#000" stroke="#000" stroke-width="0.22" >5</text>
<line x1="375.40" y1="259.70" x2="375.40" y2="262.70" stroke="#000" stroke-width="1.2" />
<text x="375.40" y="269.20" font-size="6.6" text-anchor="middle" font-weight="normal" fill="#000" stroke="#000" stroke-width="0.22" >10</text>
<line x1="407.50" y1="259.70" x2="407.50" y2="262.70" stroke="#000" stroke-width="1.2" />
<text x="407.50" y="269.20" font-size="6.6" text-anchor="middle" font-weight="normal" fill="#000" stroke="#000" stroke-width="0.22" >15</text>
<line x1="439.60" y1="259.70" x2="439.60" y2="262.70" stroke="#000" stroke-width="1.2" />
<text x="439.60" y="269.20" font-size="6.6" text-anchor="middle" font-weight="normal" fill="#000" stroke="#000" stroke-width="0.22" >20</text>
<text x="375.60" y="279.00" font-size="6.9" text-anchor="middle" font-weight="normal" fill="#000" stroke="#000" stroke-width="0.22" >Days post NK</text>
<text x="0.00" y="0.00" font-size="7.1" text-anchor="middle" font-weight="normal" fill="#000" stroke="#000" stroke-width="0.22" transform="translate(288.3 216.3) rotate(-90)">tumor size mm<tspan font-size="4.5" dy="-2.4">2</tspan></text>
<line x1="311.20" y1="232.31" x2="311.20" y2="246.00" stroke="#000" stroke-width="1.0" />
<line x1="309.80" y1="232.61" x2="312.60" y2="232.61" stroke="#000" stroke-width="1.5" />
<line x1="309.80" y1="245.70" x2="312.60" y2="245.70" stroke="#000" stroke-width="1.5" />
<line x1="336.88" y1="236.59" x2="336.88" y2="249.43" stroke="#000" stroke-width="1.0" />
<line x1="335.48" y1="236.89" x2="338.28" y2="236.89" stroke="#000" stroke-width="1.5" />
<line x1="335.48" y1="249.13" x2="338.28" y2="249.13" stroke="#000" stroke-width="1.5" />
<line x1="368.98" y1="230.60" x2="368.98" y2="249.43" stroke="#000" stroke-width="1.0" />
<line x1="367.58" y1="230.90" x2="370.38" y2="230.90" stroke="#000" stroke-width="1.5" />
<line x1="367.58" y1="249.13" x2="370.38" y2="249.13" stroke="#000" stroke-width="1.5" />
<line x1="401.08" y1="208.34" x2="401.08" y2="241.38" stroke="#000" stroke-width="1.0" />
<line x1="399.68" y1="208.64" x2="402.48" y2="208.64" stroke="#000" stroke-width="1.5" />
<line x1="399.68" y1="241.08" x2="402.48" y2="241.08" stroke="#000" stroke-width="1.5" />
<line x1="426.76" y1="187.45" x2="426.76" y2="219.98" stroke="#000" stroke-width="1.0" />
<line x1="425.36" y1="187.75" x2="428.16" y2="187.75" stroke="#000" stroke-width="1.5" />
<line x1="425.36" y1="219.68" x2="428.16" y2="219.68" stroke="#000" stroke-width="1.5" />
<path d="M311.20,237.44 L336.88,241.21 L368.98,239.16 L401.08,216.04 L426.76,198.07" stroke="#000" stroke-width="1.9" fill="none" stroke-linejoin="miter" />
<path d="M311.20,242.58 L336.88,247.72 L368.98,244.29 L401.08,233.16 L426.76,210.05" stroke="#000" stroke-width="1.9" fill="none" stroke-linejoin="miter" />
<path d="M311.20,238.30 L336.88,242.07 L368.98,240.53 L401.08,217.76 L426.76,197.04" stroke="#000" stroke-width="1.9" fill="none" stroke-linejoin="miter" />
<path d="M311.20,236.59 L336.88,240.35 L368.98,236.25 L401.08,213.48 L426.76,196.01" stroke="#000" stroke-width="1.9" fill="none" stroke-linejoin="miter" />
<circle cx="311.20" cy="237.44" r="2.73" fill="none" stroke="#000" stroke-width="1.1"/>
<circle cx="336.88" cy="241.21" r="2.73" fill="none" stroke="#000" stroke-width="1.1"/>
<circle cx="368.98" cy="239.16" r="2.73" fill="none" stroke="#000" stroke-width="1.1"/>
<circle cx="401.08" cy="216.04" r="2.73" fill="none" stroke="#000" stroke-width="1.1"/>
<circle cx="426.76" cy="198.07" r="2.73" fill="none" stroke="#000" stroke-width="1.1"/>
<rect x="308.60" y="239.98" width="5.20" height="5.20" fill="#000"/>
<rect x="334.28" y="245.12" width="5.20" height="5.20" fill="#000"/>
<rect x="366.38" y="241.69" width="5.20" height="5.20" fill="#000"/>
<rect x="398.48" y="230.56" width="5.20" height="5.20" fill="#000"/>
<rect x="424.16" y="207.45" width="5.20" height="5.20" fill="#000"/>
<path d="M311.20,235.70 L313.80,240.25 L308.60,240.25 Z" fill="none" stroke="#000" stroke-width="1.1"/>
<path d="M336.88,239.47 L339.48,244.02 L334.28,244.02 Z" fill="none" stroke="#000" stroke-width="1.1"/>
<path d="M368.98,237.93 L371.58,242.48 L366.38,242.48 Z" fill="none" stroke="#000" stroke-width="1.1"/>
<path d="M401.08,215.16 L403.68,219.71 L398.48,219.71 Z" fill="none" stroke="#000" stroke-width="1.1"/>
<path d="M426.76,194.44 L429.36,198.99 L424.16,198.99 Z" fill="none" stroke="#000" stroke-width="1.1"/>
<path d="M311.20,239.45 L314.06,234.51 L308.34,234.51 Z" fill="#000"/>
<path d="M336.88,243.21 L339.74,238.27 L334.02,238.27 Z" fill="#000"/>
<path d="M368.98,239.11 L371.84,234.17 L366.12,234.17 Z" fill="#000"/>
<path d="M401.08,216.34 L403.94,211.40 L398.22,211.40 Z" fill="#000"/>
<path d="M426.76,198.87 L429.62,193.93 L423.90,193.93 Z" fill="#000"/>
<line x1="447.40" y1="180.50" x2="458.50" y2="180.50" stroke="#000" stroke-width="2.0" />
<circle cx="453.00" cy="180.50" r="2.52" fill="none" stroke="#000" stroke-width="1.1"/>
<text x="463.10" y="183.00" font-size="6.9" text-anchor="start" font-weight="normal" fill="#000" stroke="#000" stroke-width="0.22" >no NK + isotype</text>
<line x1="447.40" y1="190.45" x2="458.50" y2="190.45" stroke="#000" stroke-width="2.0" />
<rect x="450.60" y="188.05" width="4.80" height="4.80" fill="#000"/>
<text x="463.10" y="192.95" font-size="6.9" text-anchor="start" font-weight="normal" fill="#000" stroke="#000" stroke-width="0.22" >no NK + anti-FR4</text>
<line x1="447.40" y1="200.40" x2="458.50" y2="200.40" stroke="#000" stroke-width="2.0" />
<path d="M453.00,198.00 L455.40,202.20 L450.60,202.20 Z" fill="none" stroke="#000" stroke-width="1.1"/>
<text x="463.10" y="202.90" font-size="6.9" text-anchor="start" font-weight="normal" fill="#000" stroke="#000" stroke-width="0.22" >NK + isotype</text>
<line x1="447.40" y1="210.35" x2="458.50" y2="210.35" stroke="#000" stroke-width="2.0" />
<path d="M453.00,212.99 L455.64,208.43 L450.36,208.43 Z" fill="#000"/>
<text x="463.10" y="212.85" font-size="6.9" text-anchor="start" font-weight="normal" fill="#000" stroke="#000" stroke-width="0.22" >NK + anti-FR4</text>
<text x="4.80" y="344.20" font-size="14" text-anchor="start" font-weight="bold" fill="#000" stroke="#000" stroke-width="0.1" >E</text>
<line x1="50.20" y1="353.00" x2="50.20" y2="467.10" stroke="#000" stroke-width="1.8" />
<line x1="49.30" y1="466.20" x2="218.50" y2="466.20" stroke="#000" stroke-width="1.8" />
<line x1="45.70" y1="466.20" x2="50.20" y2="466.20" stroke="#000" stroke-width="1.4" />
<text x="45.20" y="469.20" font-size="8.4" text-anchor="end" font-weight="normal" fill="#000" stroke="#000" stroke-width="0.22" >0</text>
<line x1="45.70" y1="443.70" x2="50.20" y2="443.70" stroke="#000" stroke-width="1.4" />
<text x="45.20" y="446.70" font-size="8.4" text-anchor="end" font-weight="normal" fill="#000" stroke="#000" stroke-width="0.22" >20</text>
<line x1="45.70" y1="421.20" x2="50.20" y2="421.20" stroke="#000" stroke-width="1.4" />
<text x="45.20" y="424.20" font-size="8.4" text-anchor="end" font-weight="normal" fill="#000" stroke="#000" stroke-width="0.22" >40</text>
<line x1="45.70" y1="398.70" x2="50.20" y2="398.70" stroke="#000" stroke-width="1.4" />
<text x="45.20" y="401.70" font-size="8.4" text-anchor="end" font-weight="normal" fill="#000" stroke="#000" stroke-width="0.22" >60</text>
<line x1="45.70" y1="376.20" x2="50.20" y2="376.20" stroke="#000" stroke-width="1.4" />
<text x="45.20" y="379.20" font-size="8.4" text-anchor="end" font-weight="normal" fill="#000" stroke="#000" stroke-width="0.22" >80</text>
<line x1="45.70" y1="353.70" x2="50.20" y2="353.70" stroke="#000" stroke-width="1.4" />
<text x="45.20" y="356.70" font-size="8.4" text-anchor="end" font-weight="normal" fill="#000" stroke="#000" stroke-width="0.22" >100</text>
<line x1="50.20" y1="466.20" x2="50.20" y2="470.50" stroke="#000" stroke-width="1.4" />
<text x="50.20" y="478.40" font-size="8.4" text-anchor="middle" font-weight="normal" fill="#000" stroke="#000" stroke-width="0.22" >0</text>
<line x1="106.40" y1="466.20" x2="106.40" y2="470.50" stroke="#000" stroke-width="1.4" />
<text x="106.40" y="478.40" font-size="8.4" text-anchor="middle" font-weight="normal" fill="#000" stroke="#000" stroke-width="0.22" >50</text>
<line x1="162.60" y1="466.20" x2="162.60" y2="470.50" stroke="#000" stroke-width="1.4" />
<text x="162.60" y="478.40" font-size="8.4" text-anchor="middle" font-weight="normal" fill="#000" stroke="#000" stroke-width="0.22" >100</text>
<line x1="218.80" y1="466.20" x2="218.80" y2="470.50" stroke="#000" stroke-width="1.4" />
<text x="218.80" y="478.40" font-size="8.4" text-anchor="middle" font-weight="normal" fill="#000" stroke="#000" stroke-width="0.22" >150</text>
<text x="134.40" y="492.40" font-size="9.3" text-anchor="middle" font-weight="normal" fill="#000" stroke="#000" stroke-width="0.22" >Days post tumor</text>
<text x="0.00" y="0.00" font-size="9.1" text-anchor="middle" font-weight="normal" fill="#000" stroke="#000" stroke-width="0.22" transform="translate(22.2 408.8) rotate(-90)">Percent survival</text>
<path d="M50.20,353.70 L68.18,353.70 L68.18,353.70 L68.18,353.70 L68.18,377.32 L69.31,377.32 L69.31,389.70 L69.31,389.70 L69.31,396.45 L70.43,396.45 L70.43,409.95 L71.56,409.95 L71.56,415.57 L73.80,415.57 L73.80,433.57 L74.93,433.57 L74.93,440.32 L77.18,440.32 L77.18,452.70 L81.67,452.70 L81.67,466.20" stroke="#000" stroke-width="1.5" fill="none" stroke-linejoin="miter" />
<path d="M50.20,353.70 L69.31,353.70 L69.31,353.70 L69.31,353.70 L69.31,387.45 L70.43,387.45 L70.43,393.07 L71.56,393.07 L71.56,412.20 L72.68,412.20 L72.68,421.20 L73.80,421.20 L73.80,434.70 L77.18,434.70 L77.18,443.70 L79.42,443.70 L79.42,454.95 L81.67,454.95 L81.67,466.20" stroke="#000" stroke-width="1.5" fill="none" stroke-linejoin="miter" />
<path d="M50.20,353.70 L86.17,353.70 L86.17,353.70 L86.17,353.70 L86.17,359.32 L94.04,359.32 L94.04,359.32 L94.04,359.32 L94.04,367.20 L95.16,367.20 L95.16,370.57 L97.41,370.57 L97.41,376.20 L99.66,376.20 L99.66,380.70 L101.90,380.70 L101.90,385.20 L104.15,385.20 L104.15,389.70 L106.40,389.70 L106.40,394.20 L109.77,394.20 L109.77,398.70 L113.14,398.70 L113.14,403.20 L117.64,403.20 L117.64,406.57 L122.14,406.57 L122.14,409.95 L145.74,409.95 L145.74,409.95 L145.74,409.95 L145.74,416.70 L149.11,416.70 L149.11,424.57 L200.82,424.57 L200.82,424.57" stroke="#000" stroke-width="1.5" fill="none" stroke-linejoin="miter" />
<path d="M50.20,353.70 L62.56,353.70 L62.56,353.70 L62.56,353.70 L62.56,359.32 L82.80,359.32 L82.80,359.32 L82.80,359.32 L82.80,362.70 L85.04,362.70 L85.04,367.20 L87.29,367.20 L87.29,371.70 L89.54,371.70 L89.54,376.20 L91.79,376.20 L91.79,380.70 L94.04,380.70 L94.04,385.20 L95.16,385.20 L95.16,389.70 L96.28,389.70 L96.28,394.20 L98.53,394.20 L98.53,398.70 L99.66,398.70 L99.66,403.20 L101.90,403.20 L101.90,407.70 L103.03,407.70 L103.03,409.95 L200.82,409.95 L200.82,409.95" stroke="#000" stroke-width="1.5" fill="none" stroke-linejoin="miter" />
<circle cx="68.18" cy="377.32" r="3.10" fill="#000"/>
<circle cx="69.31" cy="389.70" r="3.10" fill="#000"/>
<circle cx="69.31" cy="396.45" r="3.10" fill="#000"/>
<circle cx="70.43" cy="409.95" r="3.10" fill="#000"/>
<circle cx="71.56" cy="415.57" r="3.10" fill="#000"/>
<circle cx="73.80" cy="433.57" r="3.10" fill="#000"/>
<circle cx="74.93" cy="440.32" r="3.10" fill="#000"/>
<circle cx="77.18" cy="452.70" r="3.10" fill="#000"/>
<circle cx="81.67" cy="466.20" r="3.10" fill="#000"/>
<path d="M69.31,384.26 L72.50,389.77 L66.12,389.77 Z" fill="#000"/>
<path d="M70.43,389.88 L73.62,395.39 L67.24,395.39 Z" fill="#000"/>
<path d="M72.68,431.51 L75.87,437.02 L69.49,437.02 Z" fill="#000"/>
<path d="M76.05,440.51 L79.24,446.02 L72.86,446.02 Z" fill="#000"/>
<path d="M81.67,463.01 L84.86,468.52 L78.48,468.52 Z" fill="#000"/>
<rect x="83.07" y="356.22" width="6.20" height="6.20" fill="#000"/>
<rect x="87.56" y="364.10" width="6.20" height="6.20" fill="#000"/>
<rect x="90.94" y="367.47" width="6.20" height="6.20" fill="#000"/>
<rect x="93.18" y="370.85" width="6.20" height="6.20" fill="#000"/>
<rect x="95.43" y="375.35" width="6.20" height="6.20" fill="#000"/>
<rect x="97.68" y="378.72" width="6.20" height="6.20" fill="#000"/>
<rect x="99.93" y="383.22" width="6.20" height="6.20" fill="#000"/>
<rect x="102.18" y="387.72" width="6.20" height="6.20" fill="#000"/>
<rect x="104.42" y="391.10" width="6.20" height="6.20" fill="#000"/>
<rect x="106.67" y="394.47" width="6.20" height="6.20" fill="#000"/>
<rect x="110.04" y="397.85" width="6.20" height="6.20" fill="#000"/>
<rect x="113.42" y="402.35" width="6.20" height="6.20" fill="#000"/>
<rect x="119.04" y="406.85" width="6.20" height="6.20" fill="#000"/>
<rect x="141.52" y="414.72" width="6.20" height="6.20" fill="#000"/>
<rect x="144.89" y="421.47" width="6.20" height="6.20" fill="#000"/>
<rect x="148.26" y="421.47" width="6.20" height="6.20" fill="#000"/>
<rect x="152.76" y="421.47" width="6.20" height="6.20" fill="#000"/>
<rect x="168.49" y="421.47" width="6.20" height="6.20" fill="#000"/>
<rect x="196.59" y="421.47" width="6.20" height="6.20" fill="#000"/>
<path d="M62.56,362.51 L65.75,357.00 L59.37,357.00 Z" fill="#000"/>
<path d="M82.80,364.76 L85.99,359.25 L79.61,359.25 Z" fill="#000"/>
<path d="M85.04,370.39 L88.23,364.88 L81.85,364.88 Z" fill="#000"/>
<path d="M87.29,374.89 L90.48,369.38 L84.10,369.38 Z" fill="#000"/>
<path d="M89.54,379.39 L92.73,373.88 L86.35,373.88 Z" fill="#000"/>
<path d="M91.79,383.89 L94.98,378.38 L88.60,378.38 Z" fill="#000"/>
<path d="M94.04,388.39 L97.23,382.88 L90.85,382.88 Z" fill="#000"/>
<path d="M95.16,392.89 L98.35,387.38 L91.97,387.38 Z" fill="#000"/>
<path d="M96.28,397.39 L99.47,391.88 L93.09,391.88 Z" fill="#000"/>
<path d="M98.53,401.89 L101.72,396.38 L95.34,396.38 Z" fill="#000"/>
<path d="M99.66,406.39 L102.85,400.88 L96.47,400.88 Z" fill="#000"/>
<path d="M101.90,410.89 L105.09,405.38 L98.71,405.38 Z" fill="#000"/>
<path d="M103.03,413.14 L106.22,407.63 L99.84,407.63 Z" fill="#000"/>
<path d="M155.86,413.14 L159.05,407.63 L152.67,407.63 Z" fill="#000"/>
<path d="M171.59,413.14 L174.78,407.63 L168.40,407.63 Z" fill="#000"/>
<path d="M199.69,413.14 L202.88,407.63 L196.50,407.63 Z" fill="#000"/>
<path d="M72.68,463.60 L75.28,466.20 L72.68,468.80 L70.08,466.20 Z" fill="none" stroke="#000" stroke-width="1"/>
<path d="M83.70,440.10 L99.60,440.10 L99.60,412.80" stroke="#000" stroke-width="1.4" fill="none" stroke-linejoin="miter" />
<text x="104.40" y="445.30" font-size="8.05" text-anchor="start" font-weight="normal" fill="#000" stroke="#000" stroke-width="0.22" >p&lt; 0.0001</text>
<line x1="211.50" y1="406.20" x2="211.50" y2="425.60" stroke="#000" stroke-width="1.4" />
<line x1="207.80" y1="406.20" x2="215.20" y2="406.20" stroke="#000" stroke-width="1.4" />
<line x1="207.80" y1="425.60" x2="215.20" y2="425.60" stroke="#000" stroke-width="1.4" />
<text x="228.00" y="419.80" font-size="8.2" text-anchor="start" font-weight="normal" fill="#000" stroke="#000" stroke-width="0.22" >p=0.86</text>
<line x1="180.50" y1="332.00" x2="194.80" y2="332.00" stroke="#000" stroke-width="2.0" />
<circle cx="187.50" cy="332.00" r="3.20" fill="#000"/>
<text x="200.50" y="335.30" font-size="9.3" text-anchor="start" font-weight="normal" fill="#000" stroke="#000" stroke-width="0.22" >tumor</text>
<line x1="180.50" y1="345.15" x2="194.80" y2="345.15" stroke="#000" stroke-width="2.0" />
<rect x="184.30" y="341.95" width="6.40" height="6.40" fill="#000"/>
<text x="200.50" y="348.45" font-size="9.3" text-anchor="start" font-weight="normal" fill="#000" stroke="#000" stroke-width="0.22" >RTX</text>
<line x1="180.50" y1="358.30" x2="194.80" y2="358.30" stroke="#000" stroke-width="2.0" />
<path d="M187.50,354.78 L191.02,360.86 L183.98,360.86 Z" fill="#000"/>
<text x="200.50" y="361.60" font-size="9.3" text-anchor="start" font-weight="normal" fill="#000" stroke="#000" stroke-width="0.22" >NK</text>
<line x1="180.50" y1="371.45" x2="194.80" y2="371.45" stroke="#000" stroke-width="2.0" />
<path d="M187.50,374.97 L191.02,368.89 L183.98,368.89 Z" fill="#000"/>
<text x="200.50" y="374.75" font-size="9.3" text-anchor="start" font-weight="normal" fill="#000" stroke="#000" stroke-width="0.22" >NK + RTX</text>
<line x1="180.50" y1="384.60" x2="194.80" y2="384.60" stroke="#000" stroke-width="2.0" />
<path d="M187.50,381.40 L190.70,384.60 L187.50,387.80 L184.30,384.60 Z" fill="none" stroke="#000" stroke-width="1.3"/>
<text x="200.50" y="387.90" font-size="9.3" text-anchor="start" font-weight="normal" fill="#000" stroke="#000" stroke-width="0.22" >hi dose NK</text>
</svg>
</body></html>
